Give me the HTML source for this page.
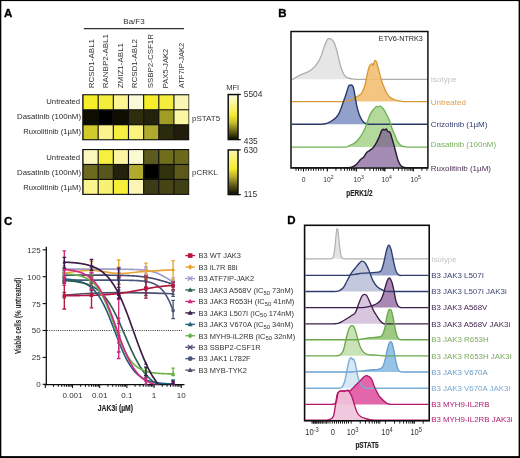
<!DOCTYPE html>
<html><head><meta charset="utf-8"><style>
html,body{margin:0;padding:0;background:#fff;}
svg{display:block;font-family:"Liberation Sans", sans-serif;}
</style></head><body>
<svg width="520" height="458" viewBox="0 0 520 458">
<defs><filter id="soft" x="0" y="0" width="520" height="458" filterUnits="userSpaceOnUse"><feGaussianBlur stdDeviation="0.4"/></filter></defs>
<rect x="0" y="0" width="520" height="458" fill="#fff"/>
<g filter="url(#soft)">
<rect x="0" y="0" width="520" height="458" fill="#fff"/>
<text x="3.9" y="17" font-size="11.5" text-anchor="start" fill="#000" font-weight="bold" stroke="#000" stroke-width="0.35">A</text>
<text x="134" y="24" font-size="8" text-anchor="middle" fill="#333" font-weight="normal" >Ba/F3</text>
<line x1="83.8" y1="28.6" x2="184" y2="28.6" stroke="#333" stroke-width="1.3"/>
<text transform="translate(93.5,88.3) rotate(-90)" font-size="8" fill="#333">RCSD1-ABL1</text>
<text transform="translate(107.8,88.3) rotate(-90)" font-size="8" fill="#333">RANBP2-ABL1</text>
<text transform="translate(122.7,88.3) rotate(-90)" font-size="8" fill="#333">ZMIZ1-ABL1</text>
<text transform="translate(137.1,88.3) rotate(-90)" font-size="8" fill="#333">RCSD1-ABL2</text>
<text transform="translate(153.4,88.3) rotate(-90)" font-size="8" fill="#333" textLength="54.2" lengthAdjust="spacingAndGlyphs">SSBP2-CSF1R</text>
<text transform="translate(167.9,88.3) rotate(-90)" font-size="8" fill="#333" textLength="39.6" lengthAdjust="spacingAndGlyphs">PAX5-JAK2</text>
<text transform="translate(184,88.3) rotate(-90)" font-size="8" fill="#333" textLength="45.6" lengthAdjust="spacingAndGlyphs">ATF7IP-JAK2</text>
<rect x="82.2" y="94.2" width="107" height="46.1" fill="#111"/>
<rect x="83.6" y="95.3" width="14" height="13.9" fill="#f6ee2a"/>
<rect x="98.75" y="95.3" width="14" height="13.9" fill="#f5ed3c"/>
<rect x="113.9" y="95.3" width="14" height="13.9" fill="#fbf591"/>
<rect x="129.05" y="95.3" width="14" height="13.9" fill="#fcfad6"/>
<rect x="144.2" y="95.3" width="14" height="13.9" fill="#f6ee2a"/>
<rect x="159.35" y="95.3" width="14" height="13.9" fill="#f5ed3c"/>
<rect x="174.5" y="95.3" width="14" height="13.9" fill="#faf6b4"/>
<rect x="83.6" y="110.3" width="14" height="13.9" fill="#0a0a05"/>
<rect x="98.75" y="110.3" width="14" height="13.9" fill="#060605"/>
<rect x="113.9" y="110.3" width="14" height="13.9" fill="#0a0a05"/>
<rect x="129.05" y="110.3" width="14" height="13.9" fill="#2f2e0c"/>
<rect x="144.2" y="110.3" width="14" height="13.9" fill="#24230b"/>
<rect x="159.35" y="110.3" width="14" height="13.9" fill="#a09c28"/>
<rect x="174.5" y="110.3" width="14" height="13.9" fill="#fbf6a2"/>
<rect x="83.6" y="125.3" width="14" height="13.9" fill="#d0ca2c"/>
<rect x="98.75" y="125.3" width="14" height="13.9" fill="#faf38e"/>
<rect x="113.9" y="125.3" width="14" height="13.9" fill="#f6ee40"/>
<rect x="129.05" y="125.3" width="14" height="13.9" fill="#faf47e"/>
<rect x="144.2" y="125.3" width="14" height="13.9" fill="#afaa2e"/>
<rect x="159.35" y="125.3" width="14" height="13.9" fill="#2c2b0c"/>
<rect x="174.5" y="125.3" width="14" height="13.9" fill="#201f09"/>
<text x="80.1" y="103.7" font-size="8" text-anchor="end" fill="#2b2b2b" font-weight="normal" textLength="33.8" lengthAdjust="spacingAndGlyphs">Untreated</text>
<text x="81" y="118.9" font-size="8" text-anchor="end" fill="#2b2b2b" font-weight="normal" textLength="64.0" lengthAdjust="spacingAndGlyphs">Dasatinib (100nM)</text>
<text x="81" y="134.2" font-size="8" text-anchor="end" fill="#2b2b2b" font-weight="normal" textLength="57.8" lengthAdjust="spacingAndGlyphs">Ruxolitinib (1&#181;M)</text>
<rect x="82.2" y="149" width="107" height="45.95" fill="#111"/>
<rect x="83.6" y="150.1" width="14" height="13.8" fill="#fbf7bd"/>
<rect x="98.75" y="150.1" width="14" height="13.8" fill="#f7ef3c"/>
<rect x="113.9" y="150.1" width="14" height="13.8" fill="#fbf5a3"/>
<rect x="129.05" y="150.1" width="14" height="13.8" fill="#fcfad2"/>
<rect x="144.2" y="150.1" width="14" height="13.8" fill="#5c5a1c"/>
<rect x="159.35" y="150.1" width="14" height="13.8" fill="#706d1f"/>
<rect x="174.5" y="150.1" width="14" height="13.8" fill="#6c691f"/>
<rect x="83.6" y="165.05" width="14" height="13.8" fill="#6c6a1f"/>
<rect x="98.75" y="165.05" width="14" height="13.8" fill="#58561b"/>
<rect x="113.9" y="165.05" width="14" height="13.8" fill="#22220c"/>
<rect x="129.05" y="165.05" width="14" height="13.8" fill="#b0ab2e"/>
<rect x="144.2" y="165.05" width="14" height="13.8" fill="#060605"/>
<rect x="159.35" y="165.05" width="14" height="13.8" fill="#30300f"/>
<rect x="174.5" y="165.05" width="14" height="13.8" fill="#5b581c"/>
<rect x="83.6" y="180" width="14" height="13.8" fill="#faf38e"/>
<rect x="98.75" y="180" width="14" height="13.8" fill="#f8f173"/>
<rect x="113.9" y="180" width="14" height="13.8" fill="#f6ee38"/>
<rect x="129.05" y="180" width="14" height="13.8" fill="#fbf6b5"/>
<rect x="144.2" y="180" width="14" height="13.8" fill="#3c3b12"/>
<rect x="159.35" y="180" width="14" height="13.8" fill="#474515"/>
<rect x="174.5" y="180" width="14" height="13.8" fill="#414013"/>
<text x="80.1" y="160.2" font-size="8" text-anchor="end" fill="#2b2b2b" font-weight="normal" textLength="33.8" lengthAdjust="spacingAndGlyphs">Untreated</text>
<text x="81" y="175.4" font-size="8" text-anchor="end" fill="#2b2b2b" font-weight="normal" textLength="64.0" lengthAdjust="spacingAndGlyphs">Dasatinib (100nM)</text>
<text x="81" y="190.3" font-size="8" text-anchor="end" fill="#2b2b2b" font-weight="normal" textLength="57.8" lengthAdjust="spacingAndGlyphs">Ruxolitinib (1&#181;M)</text>
<text x="192" y="120.5" font-size="8" text-anchor="start" fill="#333" font-weight="normal" >pSTAT5</text>
<text x="192" y="175.1" font-size="8" text-anchor="start" fill="#333" font-weight="normal" >pCRKL</text>
<defs>
<linearGradient id="cb1" x1="0" y1="0" x2="0" y2="1">
<stop offset="0" stop-color="#fdfbe2"/><stop offset="0.3" stop-color="#f9f270"/><stop offset="0.45" stop-color="#f5ed30"/>
<stop offset="0.62" stop-color="#c8c02a"/><stop offset="0.8" stop-color="#6e6a18"/><stop offset="1" stop-color="#0a0a02"/></linearGradient>
<linearGradient id="cb2" x1="0" y1="0" x2="0" y2="1">
<stop offset="0" stop-color="#fbf6b5"/><stop offset="0.3" stop-color="#f7f050"/><stop offset="0.42" stop-color="#f4ec2c"/>
<stop offset="0.6" stop-color="#b5ae2a"/><stop offset="0.8" stop-color="#5c5818"/><stop offset="1" stop-color="#0a0a02"/></linearGradient>
</defs>
<rect x="228.2" y="94.55" width="9.8" height="45" fill="url(#cb1)" stroke="#111" stroke-width="1.5"/>
<line x1="237.5" y1="94.5" x2="240.8" y2="94.5" stroke="#111" stroke-width="1.2"/>
<line x1="237.5" y1="139.6" x2="240.8" y2="139.6" stroke="#111" stroke-width="1.2"/>
<text x="243.8" y="97.2" font-size="8.4" text-anchor="start" fill="#333" font-weight="normal" >5504</text>
<text x="243.8" y="144.3" font-size="8.4" text-anchor="start" fill="#333" font-weight="normal" >435</text>
<rect x="228.2" y="149.95" width="9.8" height="44.6" fill="url(#cb2)" stroke="#111" stroke-width="1.5"/>
<line x1="237.5" y1="149.9" x2="240.8" y2="149.9" stroke="#111" stroke-width="1.2"/>
<line x1="237.5" y1="194.6" x2="240.8" y2="194.6" stroke="#111" stroke-width="1.2"/>
<text x="243.8" y="152.6" font-size="8.4" text-anchor="start" fill="#333" font-weight="normal" >630</text>
<text x="243.8" y="196.6" font-size="8.4" text-anchor="start" fill="#333" font-weight="normal" >115</text>
<text x="232.7" y="90.2" font-size="7.6" text-anchor="middle" fill="#333" font-weight="normal" >MFI</text>
<text x="278.3" y="17" font-size="11.5" text-anchor="start" fill="#000" font-weight="bold" stroke="#000" stroke-width="0.35">B</text>
<path d="M293,79.3 C293.7,78.85 295.47,77.55 297.2,76.6 C298.93,75.65 301.6,74.38 303.4,73.6 C305.2,72.82 306.47,72.7 308,71.9 C309.53,71.1 311.07,70.22 312.6,68.8 C314.13,67.38 315.8,65.45 317.2,63.4 C318.6,61.35 319.83,59.27 321,56.5 C322.17,53.73 323.17,49.58 324.2,46.8 C325.23,44.02 326.32,41.17 327.2,39.8 C328.08,38.43 328.73,38.63 329.5,38.6 C330.27,38.57 331.02,38.9 331.8,39.6 C332.58,40.3 333.42,41.15 334.2,42.8 C334.98,44.45 335.73,46.83 336.5,49.5 C337.27,52.17 338.05,55.8 338.8,58.8 C339.55,61.8 340.1,64.83 341,67.5 C341.9,70.17 343.03,73.07 344.2,74.8 C345.37,76.53 346.33,77.18 348,77.9 C349.67,78.62 352.2,78.87 354.2,79.1 C356.2,79.33 359.03,79.27 360,79.3 L360,79.3 L293,79.3 Z" fill="#e6e6e6" fill-opacity="1.0" stroke="none"/>
<path d="M292,79.3 L293,79.3 M293,79.3 C293.7,78.85 295.47,77.55 297.2,76.6 C298.93,75.65 301.6,74.38 303.4,73.6 C305.2,72.82 306.47,72.7 308,71.9 C309.53,71.1 311.07,70.22 312.6,68.8 C314.13,67.38 315.8,65.45 317.2,63.4 C318.6,61.35 319.83,59.27 321,56.5 C322.17,53.73 323.17,49.58 324.2,46.8 C325.23,44.02 326.32,41.17 327.2,39.8 C328.08,38.43 328.73,38.63 329.5,38.6 C330.27,38.57 331.02,38.9 331.8,39.6 C332.58,40.3 333.42,41.15 334.2,42.8 C334.98,44.45 335.73,46.83 336.5,49.5 C337.27,52.17 338.05,55.8 338.8,58.8 C339.55,61.8 340.1,64.83 341,67.5 C341.9,70.17 343.03,73.07 344.2,74.8 C345.37,76.53 346.33,77.18 348,77.9 C349.67,78.62 352.2,78.87 354.2,79.1 C356.2,79.33 359.03,79.27 360,79.3 M360,79.3 L427.2,79.3" fill="none" stroke="#adadad" stroke-width="1.25" stroke-linejoin="round"/>
<path d="M345,101.6 C345.7,101.4 347.87,100.87 349.2,100.4 C350.53,99.93 351.72,99.42 353,98.8 C354.28,98.18 355.8,97.33 356.9,96.7 C358,96.07 358.8,95.62 359.6,95 C360.4,94.38 360.87,94.42 361.7,93 C362.53,91.58 363.63,89.82 364.6,86.5 C365.57,83.18 366.72,76.43 367.5,73.1 C368.28,69.77 368.78,67.92 369.3,66.5 C369.82,65.08 370.17,65.08 370.6,64.6 C371.03,64.12 371.47,63.47 371.9,63.6 C372.33,63.73 372.82,65.7 373.2,65.4 C373.58,65.1 373.87,62.63 374.2,61.8 C374.53,60.97 374.78,60.28 375.2,60.4 C375.62,60.52 376.07,60.7 376.7,62.5 C377.33,64.3 378.28,68.48 379,71.2 C379.72,73.92 380.35,76.57 381,78.8 C381.65,81.03 382.1,82.52 382.9,84.6 C383.7,86.68 384.68,89.22 385.8,91.3 C386.92,93.38 388,95.62 389.6,97.1 C391.2,98.58 393.33,99.5 395.4,100.2 C397.47,100.9 400.07,101.07 402,101.3 C403.93,101.53 406.17,101.55 407,101.6 L407,101.6 L345,101.6 Z" fill="#f2bf72" fill-opacity="0.9" stroke="none"/>
<path d="M322,124.2 C322.82,124.05 325.32,123.83 326.9,123.3 C328.48,122.77 329.97,121.97 331.5,121 C333.03,120.03 334.85,118.77 336.1,117.5 C337.35,116.23 338.13,115.03 339,113.4 C339.87,111.77 340.43,110 341.3,107.7 C342.17,105.4 343.33,102.1 344.2,99.6 C345.07,97.1 345.77,94.93 346.5,92.7 C347.23,90.47 348.02,87.45 348.6,86.2 C349.18,84.95 349.38,85.33 350,85.2 C350.62,85.07 351.68,84.8 352.3,85.4 C352.92,86 353.22,86.82 353.7,88.8 C354.18,90.78 354.67,94.35 355.2,97.3 C355.73,100.25 356.23,103.62 356.9,106.5 C357.57,109.38 358.33,112.28 359.2,114.6 C360.07,116.92 361.03,118.88 362.1,120.4 C363.17,121.92 364.62,123.07 365.6,123.7 C366.58,124.33 367.6,124.12 368,124.2 L368,124.2 L322,124.2 Z" fill="#7f90c2" fill-opacity="0.85" stroke="none"/>
<path d="M347,147.1 C347.5,146.82 348.73,146.07 350,145.4 C351.27,144.73 353.07,144.25 354.6,143.1 C356.13,141.95 357.78,140.3 359.2,138.5 C360.62,136.7 361.93,134.48 363.1,132.3 C364.27,130.12 365.3,127.7 366.2,125.4 C367.1,123.1 367.73,120.55 368.5,118.5 C369.27,116.45 369.92,114.65 370.8,113.1 C371.68,111.55 372.9,110.3 373.8,109.2 C374.7,108.1 375.55,106.88 376.2,106.5 C376.85,106.12 377.07,106.95 377.7,106.9 C378.33,106.85 379.1,105.93 380,106.2 C380.9,106.47 382.07,107.23 383.1,108.5 C384.13,109.77 385.18,111.88 386.2,113.8 C387.22,115.72 388.32,117.82 389.2,120 C390.08,122.18 390.6,124.47 391.5,126.9 C392.4,129.33 393.57,132.13 394.6,134.6 C395.63,137.07 396.55,139.82 397.7,141.7 C398.85,143.58 399.95,145 401.5,145.9 C403.05,146.8 406.08,146.9 407,147.1 L407,147.1 L347,147.1 Z" fill="#a7d28b" fill-opacity="0.85" stroke="none"/>
<path d="M349,167.6 C349.42,167.53 350.3,167.7 351.5,167.2 C352.7,166.7 354.65,165.93 356.2,164.6 C357.75,163.27 359.53,160.48 360.8,159.2 C362.07,157.92 362.78,158.05 363.8,156.9 C364.82,155.75 366,153.32 366.9,152.3 C367.8,151.28 368.17,151.57 369.2,150.8 C370.23,150.03 371.93,148.98 373.1,147.7 C374.27,146.42 375.18,144.9 376.2,143.1 C377.22,141.3 378.32,138.95 379.2,136.9 C380.08,134.85 380.85,132.08 381.5,130.8 C382.15,129.52 382.58,129.33 383.1,129.2 C383.62,129.07 384.08,130.05 384.6,130 C385.12,129.95 385.68,128.65 386.2,128.9 C386.72,129.15 387.07,130.93 387.7,131.5 C388.33,132.07 389.37,131.4 390,132.3 C390.63,133.2 390.87,134.85 391.5,136.9 C392.13,138.95 393.02,141.78 393.8,144.6 C394.58,147.42 395.42,150.98 396.2,153.8 C396.98,156.62 397.62,159.43 398.5,161.5 C399.38,163.57 400.35,165.18 401.5,166.2 C402.65,167.22 404.75,167.37 405.4,167.6 L405.4,167.6 L349,167.6 Z" fill="#77548f" fill-opacity="0.67" stroke="none"/>
<path d="M292,101.6 L345,101.6 M345,101.6 C345.7,101.4 347.87,100.87 349.2,100.4 C350.53,99.93 351.72,99.42 353,98.8 C354.28,98.18 355.8,97.33 356.9,96.7 C358,96.07 358.8,95.62 359.6,95 C360.4,94.38 360.87,94.42 361.7,93 C362.53,91.58 363.63,89.82 364.6,86.5 C365.57,83.18 366.72,76.43 367.5,73.1 C368.28,69.77 368.78,67.92 369.3,66.5 C369.82,65.08 370.17,65.08 370.6,64.6 C371.03,64.12 371.47,63.47 371.9,63.6 C372.33,63.73 372.82,65.7 373.2,65.4 C373.58,65.1 373.87,62.63 374.2,61.8 C374.53,60.97 374.78,60.28 375.2,60.4 C375.62,60.52 376.07,60.7 376.7,62.5 C377.33,64.3 378.28,68.48 379,71.2 C379.72,73.92 380.35,76.57 381,78.8 C381.65,81.03 382.1,82.52 382.9,84.6 C383.7,86.68 384.68,89.22 385.8,91.3 C386.92,93.38 388,95.62 389.6,97.1 C391.2,98.58 393.33,99.5 395.4,100.2 C397.47,100.9 400.07,101.07 402,101.3 C403.93,101.53 406.17,101.55 407,101.6 M407,101.6 L427.2,101.6" fill="none" stroke="#d99a35" stroke-width="1.35" stroke-linejoin="round"/>
<path d="M292,124.2 L322,124.2 M322,124.2 C322.82,124.05 325.32,123.83 326.9,123.3 C328.48,122.77 329.97,121.97 331.5,121 C333.03,120.03 334.85,118.77 336.1,117.5 C337.35,116.23 338.13,115.03 339,113.4 C339.87,111.77 340.43,110 341.3,107.7 C342.17,105.4 343.33,102.1 344.2,99.6 C345.07,97.1 345.77,94.93 346.5,92.7 C347.23,90.47 348.02,87.45 348.6,86.2 C349.18,84.95 349.38,85.33 350,85.2 C350.62,85.07 351.68,84.8 352.3,85.4 C352.92,86 353.22,86.82 353.7,88.8 C354.18,90.78 354.67,94.35 355.2,97.3 C355.73,100.25 356.23,103.62 356.9,106.5 C357.57,109.38 358.33,112.28 359.2,114.6 C360.07,116.92 361.03,118.88 362.1,120.4 C363.17,121.92 364.62,123.07 365.6,123.7 C366.58,124.33 367.6,124.12 368,124.2 M368,124.2 L427.2,124.2" fill="none" stroke="#2b3a6b" stroke-width="1.4" stroke-linejoin="round"/>
<path d="M292,147.1 L347,147.1 M347,147.1 C347.5,146.82 348.73,146.07 350,145.4 C351.27,144.73 353.07,144.25 354.6,143.1 C356.13,141.95 357.78,140.3 359.2,138.5 C360.62,136.7 361.93,134.48 363.1,132.3 C364.27,130.12 365.3,127.7 366.2,125.4 C367.1,123.1 367.73,120.55 368.5,118.5 C369.27,116.45 369.92,114.65 370.8,113.1 C371.68,111.55 372.9,110.3 373.8,109.2 C374.7,108.1 375.55,106.88 376.2,106.5 C376.85,106.12 377.07,106.95 377.7,106.9 C378.33,106.85 379.1,105.93 380,106.2 C380.9,106.47 382.07,107.23 383.1,108.5 C384.13,109.77 385.18,111.88 386.2,113.8 C387.22,115.72 388.32,117.82 389.2,120 C390.08,122.18 390.6,124.47 391.5,126.9 C392.4,129.33 393.57,132.13 394.6,134.6 C395.63,137.07 396.55,139.82 397.7,141.7 C398.85,143.58 399.95,145 401.5,145.9 C403.05,146.8 406.08,146.9 407,147.1 M407,147.1 L427.2,147.1" fill="none" stroke="#72b257" stroke-width="1.35" stroke-linejoin="round"/>
<path d="M292,167.6 L349,167.6 M349,167.6 C349.42,167.53 350.3,167.7 351.5,167.2 C352.7,166.7 354.65,165.93 356.2,164.6 C357.75,163.27 359.53,160.48 360.8,159.2 C362.07,157.92 362.78,158.05 363.8,156.9 C364.82,155.75 366,153.32 366.9,152.3 C367.8,151.28 368.17,151.57 369.2,150.8 C370.23,150.03 371.93,148.98 373.1,147.7 C374.27,146.42 375.18,144.9 376.2,143.1 C377.22,141.3 378.32,138.95 379.2,136.9 C380.08,134.85 380.85,132.08 381.5,130.8 C382.15,129.52 382.58,129.33 383.1,129.2 C383.62,129.07 384.08,130.05 384.6,130 C385.12,129.95 385.68,128.65 386.2,128.9 C386.72,129.15 387.07,130.93 387.7,131.5 C388.33,132.07 389.37,131.4 390,132.3 C390.63,133.2 390.87,134.85 391.5,136.9 C392.13,138.95 393.02,141.78 393.8,144.6 C394.58,147.42 395.42,150.98 396.2,153.8 C396.98,156.62 397.62,159.43 398.5,161.5 C399.38,163.57 400.35,165.18 401.5,166.2 C402.65,167.22 404.75,167.37 405.4,167.6 M405.4,167.6 L427.2,167.6" fill="none" stroke="#2c1c35" stroke-width="1.45" stroke-linejoin="round"/>
<rect x="291" y="31.5" width="136.9" height="136.5" fill="none" stroke="#111" stroke-width="1.5"/>
<line x1="327.3" y1="168" x2="327.3" y2="170.8" stroke="#111" stroke-width="0.95"/>
<line x1="335.91" y1="168" x2="335.91" y2="170.8" stroke="#111" stroke-width="0.95"/>
<line x1="340.95" y1="168" x2="340.95" y2="170.8" stroke="#111" stroke-width="0.95"/>
<line x1="344.52" y1="168" x2="344.52" y2="170.8" stroke="#111" stroke-width="0.95"/>
<line x1="347.29" y1="168" x2="347.29" y2="170.8" stroke="#111" stroke-width="0.95"/>
<line x1="349.56" y1="168" x2="349.56" y2="170.8" stroke="#111" stroke-width="0.95"/>
<line x1="351.47" y1="168" x2="351.47" y2="170.8" stroke="#111" stroke-width="0.95"/>
<line x1="353.13" y1="168" x2="353.13" y2="170.8" stroke="#111" stroke-width="0.95"/>
<line x1="354.59" y1="168" x2="354.59" y2="170.8" stroke="#111" stroke-width="0.95"/>
<line x1="356.3" y1="168" x2="356.3" y2="170.8" stroke="#111" stroke-width="0.95"/>
<line x1="364.91" y1="168" x2="364.91" y2="170.8" stroke="#111" stroke-width="0.95"/>
<line x1="369.95" y1="168" x2="369.95" y2="170.8" stroke="#111" stroke-width="0.95"/>
<line x1="373.52" y1="168" x2="373.52" y2="170.8" stroke="#111" stroke-width="0.95"/>
<line x1="376.29" y1="168" x2="376.29" y2="170.8" stroke="#111" stroke-width="0.95"/>
<line x1="378.56" y1="168" x2="378.56" y2="170.8" stroke="#111" stroke-width="0.95"/>
<line x1="380.47" y1="168" x2="380.47" y2="170.8" stroke="#111" stroke-width="0.95"/>
<line x1="382.13" y1="168" x2="382.13" y2="170.8" stroke="#111" stroke-width="0.95"/>
<line x1="383.59" y1="168" x2="383.59" y2="170.8" stroke="#111" stroke-width="0.95"/>
<line x1="384.8" y1="168" x2="384.8" y2="170.8" stroke="#111" stroke-width="0.95"/>
<line x1="393.41" y1="168" x2="393.41" y2="170.8" stroke="#111" stroke-width="0.95"/>
<line x1="398.45" y1="168" x2="398.45" y2="170.8" stroke="#111" stroke-width="0.95"/>
<line x1="402.02" y1="168" x2="402.02" y2="170.8" stroke="#111" stroke-width="0.95"/>
<line x1="404.79" y1="168" x2="404.79" y2="170.8" stroke="#111" stroke-width="0.95"/>
<line x1="407.06" y1="168" x2="407.06" y2="170.8" stroke="#111" stroke-width="0.95"/>
<line x1="408.97" y1="168" x2="408.97" y2="170.8" stroke="#111" stroke-width="0.95"/>
<line x1="410.63" y1="168" x2="410.63" y2="170.8" stroke="#111" stroke-width="0.95"/>
<line x1="412.09" y1="168" x2="412.09" y2="170.8" stroke="#111" stroke-width="0.95"/>
<line x1="413.3" y1="168" x2="413.3" y2="170.8" stroke="#111" stroke-width="0.95"/>
<line x1="421.91" y1="168" x2="421.91" y2="170.8" stroke="#111" stroke-width="0.95"/>
<line x1="426.95" y1="168" x2="426.95" y2="170.8" stroke="#111" stroke-width="0.95"/>
<line x1="296" y1="168" x2="296" y2="170.8" stroke="#111" stroke-width="0.95"/>
<line x1="298.5" y1="168" x2="298.5" y2="170.8" stroke="#111" stroke-width="0.95"/>
<line x1="301" y1="168" x2="301" y2="170.8" stroke="#111" stroke-width="0.95"/>
<line x1="303.5" y1="168" x2="303.5" y2="170.8" stroke="#111" stroke-width="0.95"/>
<line x1="306" y1="168" x2="306" y2="170.8" stroke="#111" stroke-width="0.95"/>
<line x1="308.5" y1="168" x2="308.5" y2="170.8" stroke="#111" stroke-width="0.95"/>
<line x1="311" y1="168" x2="311" y2="170.8" stroke="#111" stroke-width="0.95"/>
<line x1="313.5" y1="168" x2="313.5" y2="170.8" stroke="#111" stroke-width="0.95"/>
<line x1="316" y1="168" x2="316" y2="170.8" stroke="#111" stroke-width="0.95"/>
<line x1="318.5" y1="168" x2="318.5" y2="170.8" stroke="#111" stroke-width="0.95"/>
<line x1="321" y1="168" x2="321" y2="170.8" stroke="#111" stroke-width="0.95"/>
<line x1="323.5" y1="168" x2="323.5" y2="170.8" stroke="#111" stroke-width="0.95"/>
<line x1="303.5" y1="168" x2="303.5" y2="171.5" stroke="#111" stroke-width="1"/>
<line x1="327.3" y1="168" x2="327.3" y2="171.5" stroke="#111" stroke-width="1"/>
<line x1="356.3" y1="168" x2="356.3" y2="171.5" stroke="#111" stroke-width="1"/>
<line x1="384.8" y1="168" x2="384.8" y2="171.5" stroke="#111" stroke-width="1"/>
<line x1="413.3" y1="168" x2="413.3" y2="171.5" stroke="#111" stroke-width="1"/>
<g transform="translate(303.5,181.8) scale(0.88,1)"><text x="0" y="0" font-size="7.6" fill="#333" text-anchor="middle">0</text></g>
<g transform="translate(323.2,181.8) scale(0.88,1)"><text x="0" y="0" font-size="7.6" fill="#333">10<tspan font-size="5.8" dy="-3.2">2</tspan></text></g>
<g transform="translate(353.5,181.8) scale(0.88,1)"><text x="0" y="0" font-size="7.6" fill="#333">10<tspan font-size="5.8" dy="-3.2">3</tspan></text></g>
<g transform="translate(381.5,181.8) scale(0.88,1)"><text x="0" y="0" font-size="7.6" fill="#333">10<tspan font-size="5.8" dy="-3.2">4</tspan></text></g>
<g transform="translate(410.6,181.8) scale(0.88,1)"><text x="0" y="0" font-size="7.6" fill="#333">10<tspan font-size="5.8" dy="-3.2">5</tspan></text></g>
<g transform="translate(359.5,195.5) scale(0.745,1)"><text x="0" y="0" font-size="8.6" font-weight="bold" stroke="#222" stroke-width="0.15" fill="#222" text-anchor="middle">pERK1/2</text></g>
<text x="422.8" y="41.3" font-size="7.2" text-anchor="end" fill="#222" font-weight="normal" >ETV6-NTRK3</text>
<text x="430.8" y="82.3" font-size="8" text-anchor="start" fill="#c4c4c4" font-weight="normal" >Isotype</text>
<text x="430.8" y="104.6" font-size="8" text-anchor="start" fill="#dca043" font-weight="normal" >Untreated</text>
<text x="430.8" y="127" font-size="8" text-anchor="start" fill="#2f3d6c" font-weight="normal" >Crizotinib (1&#181;M)</text>
<text x="430.8" y="147" font-size="8" text-anchor="start" fill="#78ad5c" font-weight="normal" >Dasatinib (100nM)</text>
<text x="430.8" y="170.6" font-size="8" text-anchor="start" fill="#4a3052" font-weight="normal" >Ruxolitinib (1&#181;M)</text>
<text x="3.9" y="224.5" font-size="11.5" text-anchor="start" fill="#000" font-weight="bold" stroke="#000" stroke-width="0.35">C</text>
<line x1="46.3" y1="246.8" x2="46.3" y2="385.2" stroke="#111" stroke-width="1.3"/>
<line x1="44.6" y1="384.6" x2="184.5" y2="384.6" stroke="#111" stroke-width="1.3"/>
<line x1="42.6" y1="384.3" x2="46.3" y2="384.3" stroke="#111" stroke-width="1.1"/>
<text x="40.6" y="387.2" font-size="8" text-anchor="end" fill="#333" font-weight="normal" >0</text>
<line x1="42.6" y1="357.4" x2="46.3" y2="357.4" stroke="#111" stroke-width="1.1"/>
<text x="40.6" y="360.3" font-size="8" text-anchor="end" fill="#333" font-weight="normal" >25</text>
<line x1="42.6" y1="330.5" x2="46.3" y2="330.5" stroke="#111" stroke-width="1.1"/>
<text x="40.6" y="333.4" font-size="8" text-anchor="end" fill="#333" font-weight="normal" >50</text>
<line x1="42.6" y1="303.6" x2="46.3" y2="303.6" stroke="#111" stroke-width="1.1"/>
<text x="40.6" y="306.5" font-size="8" text-anchor="end" fill="#333" font-weight="normal" >75</text>
<line x1="42.6" y1="276.7" x2="46.3" y2="276.7" stroke="#111" stroke-width="1.1"/>
<text x="40.6" y="279.6" font-size="8" text-anchor="end" fill="#333" font-weight="normal" >100</text>
<line x1="42.6" y1="249.8" x2="46.3" y2="249.8" stroke="#111" stroke-width="1.1"/>
<text x="40.6" y="252.7" font-size="8" text-anchor="end" fill="#333" font-weight="normal" >125</text>
<line x1="45.3" y1="384.6" x2="45.3" y2="388" stroke="#111" stroke-width="1.05"/>
<line x1="53.49" y1="384.6" x2="53.49" y2="386.8" stroke="#111" stroke-width="1.05"/>
<line x1="58.28" y1="384.6" x2="58.28" y2="386.8" stroke="#111" stroke-width="1.05"/>
<line x1="61.68" y1="384.6" x2="61.68" y2="386.8" stroke="#111" stroke-width="1.05"/>
<line x1="64.31" y1="384.6" x2="64.31" y2="386.8" stroke="#111" stroke-width="1.05"/>
<line x1="66.47" y1="384.6" x2="66.47" y2="386.8" stroke="#111" stroke-width="1.05"/>
<line x1="68.29" y1="384.6" x2="68.29" y2="386.8" stroke="#111" stroke-width="1.05"/>
<line x1="69.86" y1="384.6" x2="69.86" y2="386.8" stroke="#111" stroke-width="1.05"/>
<line x1="71.26" y1="384.6" x2="71.26" y2="386.8" stroke="#111" stroke-width="1.05"/>
<line x1="72.5" y1="384.6" x2="72.5" y2="388" stroke="#111" stroke-width="1.05"/>
<line x1="80.69" y1="384.6" x2="80.69" y2="386.8" stroke="#111" stroke-width="1.05"/>
<line x1="85.48" y1="384.6" x2="85.48" y2="386.8" stroke="#111" stroke-width="1.05"/>
<line x1="88.88" y1="384.6" x2="88.88" y2="386.8" stroke="#111" stroke-width="1.05"/>
<line x1="91.51" y1="384.6" x2="91.51" y2="386.8" stroke="#111" stroke-width="1.05"/>
<line x1="93.67" y1="384.6" x2="93.67" y2="386.8" stroke="#111" stroke-width="1.05"/>
<line x1="95.49" y1="384.6" x2="95.49" y2="386.8" stroke="#111" stroke-width="1.05"/>
<line x1="97.06" y1="384.6" x2="97.06" y2="386.8" stroke="#111" stroke-width="1.05"/>
<line x1="98.46" y1="384.6" x2="98.46" y2="386.8" stroke="#111" stroke-width="1.05"/>
<line x1="99.7" y1="384.6" x2="99.7" y2="388" stroke="#111" stroke-width="1.05"/>
<line x1="107.89" y1="384.6" x2="107.89" y2="386.8" stroke="#111" stroke-width="1.05"/>
<line x1="112.68" y1="384.6" x2="112.68" y2="386.8" stroke="#111" stroke-width="1.05"/>
<line x1="116.08" y1="384.6" x2="116.08" y2="386.8" stroke="#111" stroke-width="1.05"/>
<line x1="118.71" y1="384.6" x2="118.71" y2="386.8" stroke="#111" stroke-width="1.05"/>
<line x1="120.87" y1="384.6" x2="120.87" y2="386.8" stroke="#111" stroke-width="1.05"/>
<line x1="122.69" y1="384.6" x2="122.69" y2="386.8" stroke="#111" stroke-width="1.05"/>
<line x1="124.26" y1="384.6" x2="124.26" y2="386.8" stroke="#111" stroke-width="1.05"/>
<line x1="125.66" y1="384.6" x2="125.66" y2="386.8" stroke="#111" stroke-width="1.05"/>
<line x1="126.9" y1="384.6" x2="126.9" y2="388" stroke="#111" stroke-width="1.05"/>
<line x1="135.09" y1="384.6" x2="135.09" y2="386.8" stroke="#111" stroke-width="1.05"/>
<line x1="139.88" y1="384.6" x2="139.88" y2="386.8" stroke="#111" stroke-width="1.05"/>
<line x1="143.28" y1="384.6" x2="143.28" y2="386.8" stroke="#111" stroke-width="1.05"/>
<line x1="145.91" y1="384.6" x2="145.91" y2="386.8" stroke="#111" stroke-width="1.05"/>
<line x1="148.07" y1="384.6" x2="148.07" y2="386.8" stroke="#111" stroke-width="1.05"/>
<line x1="149.89" y1="384.6" x2="149.89" y2="386.8" stroke="#111" stroke-width="1.05"/>
<line x1="151.46" y1="384.6" x2="151.46" y2="386.8" stroke="#111" stroke-width="1.05"/>
<line x1="152.86" y1="384.6" x2="152.86" y2="386.8" stroke="#111" stroke-width="1.05"/>
<line x1="154.1" y1="384.6" x2="154.1" y2="388" stroke="#111" stroke-width="1.05"/>
<line x1="162.29" y1="384.6" x2="162.29" y2="386.8" stroke="#111" stroke-width="1.05"/>
<line x1="167.08" y1="384.6" x2="167.08" y2="386.8" stroke="#111" stroke-width="1.05"/>
<line x1="170.48" y1="384.6" x2="170.48" y2="386.8" stroke="#111" stroke-width="1.05"/>
<line x1="173.11" y1="384.6" x2="173.11" y2="386.8" stroke="#111" stroke-width="1.05"/>
<line x1="175.27" y1="384.6" x2="175.27" y2="386.8" stroke="#111" stroke-width="1.05"/>
<line x1="177.09" y1="384.6" x2="177.09" y2="386.8" stroke="#111" stroke-width="1.05"/>
<line x1="178.66" y1="384.6" x2="178.66" y2="386.8" stroke="#111" stroke-width="1.05"/>
<line x1="180.06" y1="384.6" x2="180.06" y2="386.8" stroke="#111" stroke-width="1.05"/>
<line x1="181.3" y1="384.6" x2="181.3" y2="388" stroke="#111" stroke-width="1.05"/>
<text x="72.5" y="397.9" font-size="8" text-anchor="middle" fill="#333" font-weight="normal" >0.001</text>
<text x="99.7" y="397.9" font-size="8" text-anchor="middle" fill="#333" font-weight="normal" >0.01</text>
<text x="126.9" y="397.9" font-size="8" text-anchor="middle" fill="#333" font-weight="normal" >0.1</text>
<text x="154.1" y="397.9" font-size="8" text-anchor="middle" fill="#333" font-weight="normal" >1</text>
<text x="181.3" y="397.9" font-size="8" text-anchor="middle" fill="#333" font-weight="normal" >10</text>
<g transform="translate(115.4,410.8) scale(0.79,1)"><text x="0" y="0" font-size="8.6" font-weight="bold" stroke="#222" stroke-width="0.15" fill="#222" text-anchor="middle">JAK3i (&#181;M)</text></g>
<g transform="translate(20.7,315.9) rotate(-90) scale(0.735,1)"><text x="0" y="0" font-size="8.6" font-weight="bold" fill="#222" text-anchor="middle">Viable cells (% untreated)</text></g>
<line x1="47" y1="330.5" x2="182" y2="330.5" stroke="#333" stroke-width="1" stroke-dasharray="1,1.2"/>
<defs><clipPath id="cclip"><rect x="46" y="240" width="140" height="144.6"/></clipPath></defs>
<g clip-path="url(#cclip)">
<path d="M64.31,275.09 L64.99,275.09 L65.67,275.09 L66.35,275.09 L67.03,275.09 L67.71,275.09 L68.39,275.09 L69.07,275.09 L69.75,275.09 L70.43,275.09 L71.11,275.09 L71.79,275.09 L72.47,275.09 L73.15,275.09 L73.83,275.09 L74.51,275.09 L75.19,275.09 L75.87,275.09 L76.55,275.09 L77.23,275.09 L77.91,275.09 L78.59,275.09 L79.27,275.09 L79.95,275.1 L80.63,275.1 L81.31,275.1 L81.99,275.1 L82.67,275.1 L83.35,275.1 L84.03,275.1 L84.71,275.1 L85.39,275.1 L86.07,275.1 L86.75,275.1 L87.43,275.1 L88.11,275.1 L88.79,275.11 L89.47,275.11 L90.15,275.11 L90.83,275.11 L91.51,275.11 L92.19,275.11 L92.87,275.11 L93.55,275.11 L94.23,275.12 L94.91,275.12 L95.59,275.12 L96.27,275.12 L96.95,275.12 L97.63,275.13 L98.31,275.13 L98.99,275.13 L99.67,275.13 L100.35,275.14 L101.03,275.14 L101.71,275.14 L102.39,275.15 L103.07,275.15 L103.75,275.15 L104.43,275.16 L105.11,275.16 L105.79,275.17 L106.47,275.17 L107.15,275.18 L107.83,275.18 L108.51,275.19 L109.19,275.19 L109.87,275.2 L110.55,275.21 L111.23,275.21 L111.91,275.22 L112.59,275.23 L113.27,275.24 L113.95,275.25 L114.63,275.26 L115.31,275.27 L115.99,275.28 L116.67,275.29 L117.35,275.3 L118.03,275.31 L118.71,275.32 L119.39,275.34 L120.07,275.35 L120.75,275.37 L121.43,275.38 L122.11,275.4 L122.79,275.42 L123.47,275.44 L124.15,275.46 L124.83,275.48 L125.51,275.5 L126.19,275.53 L126.87,275.55 L127.55,275.58 L128.23,275.61 L128.91,275.64 L129.59,275.67 L130.27,275.7 L130.95,275.74 L131.63,275.77 L132.31,275.81 L132.99,275.85 L133.67,275.9 L134.35,275.94 L135.03,275.99 L135.71,276.04 L136.39,276.09 L137.07,276.15 L137.75,276.21 L138.43,276.27 L139.11,276.33 L139.79,276.4 L140.47,276.47 L141.15,276.54 L141.83,276.62 L142.51,276.7 L143.19,276.78 L143.87,276.87 L144.55,276.96 L145.23,277.06 L145.91,277.16 L146.59,277.27 L147.27,277.37 L147.95,277.49 L148.63,277.61 L149.31,277.73 L149.99,277.85 L150.67,277.99 L151.35,278.12 L152.03,278.26 L152.71,278.41 L153.39,278.56 L154.07,278.71 L154.75,278.87 L155.43,279.03 L156.11,279.2 L156.79,279.37 L157.47,279.55 L158.15,279.73 L158.83,279.91 L159.51,280.1 L160.19,280.29 L160.87,280.48 L161.55,280.68 L162.23,280.88 L162.91,281.08 L163.59,281.29 L164.27,281.49 L164.95,281.7 L165.63,281.91 L166.31,282.11 L166.99,282.32 L167.67,282.53 L168.35,282.74 L169.03,282.95 L169.71,283.16 L170.39,283.36 L171.07,283.57 L171.75,283.77 L172.43,283.97 L173.11,284.16" fill="none" stroke="#4a4a72" stroke-width="1.65"/>
<line x1="64.31" y1="272.4" x2="64.31" y2="277.78" stroke="#4a4a72" stroke-width="1.35"/>
<line x1="62.51" y1="272.4" x2="66.11" y2="272.4" stroke="#4a4a72" stroke-width="1.3"/>
<line x1="62.51" y1="277.78" x2="66.11" y2="277.78" stroke="#4a4a72" stroke-width="1.3"/>
<path d="M62.61,273.39 L66.01,276.79 M62.61,276.79 L66.01,273.39" stroke="#4a4a72" stroke-width="1.2"/>
<line x1="91.51" y1="272.42" x2="91.51" y2="277.8" stroke="#4a4a72" stroke-width="1.35"/>
<line x1="89.71" y1="272.42" x2="93.31" y2="272.42" stroke="#4a4a72" stroke-width="1.3"/>
<line x1="89.71" y1="277.8" x2="93.31" y2="277.8" stroke="#4a4a72" stroke-width="1.3"/>
<path d="M89.81,273.41 L93.21,276.81 M89.81,276.81 L93.21,273.41" stroke="#4a4a72" stroke-width="1.2"/>
<line x1="118.71" y1="272.63" x2="118.71" y2="278.01" stroke="#4a4a72" stroke-width="1.35"/>
<line x1="116.91" y1="272.63" x2="120.51" y2="272.63" stroke="#4a4a72" stroke-width="1.3"/>
<line x1="116.91" y1="278.01" x2="120.51" y2="278.01" stroke="#4a4a72" stroke-width="1.3"/>
<path d="M117.01,273.62 L120.41,277.02 M117.01,277.02 L120.41,273.62" stroke="#4a4a72" stroke-width="1.2"/>
<line x1="145.91" y1="274.47" x2="145.91" y2="279.85" stroke="#4a4a72" stroke-width="1.35"/>
<line x1="144.11" y1="274.47" x2="147.71" y2="274.47" stroke="#4a4a72" stroke-width="1.3"/>
<line x1="144.11" y1="279.85" x2="147.71" y2="279.85" stroke="#4a4a72" stroke-width="1.3"/>
<path d="M144.21,275.46 L147.61,278.86 M144.21,278.86 L147.61,275.46" stroke="#4a4a72" stroke-width="1.2"/>
<line x1="173.11" y1="281.47" x2="173.11" y2="286.85" stroke="#4a4a72" stroke-width="1.35"/>
<line x1="171.31" y1="281.47" x2="174.91" y2="281.47" stroke="#4a4a72" stroke-width="1.3"/>
<line x1="171.31" y1="286.85" x2="174.91" y2="286.85" stroke="#4a4a72" stroke-width="1.3"/>
<path d="M171.41,282.46 L174.81,285.86 M171.41,285.86 L174.81,282.46" stroke="#4a4a72" stroke-width="1.2"/>
<path d="M64.31,295.21 C68.85,294.88 82.45,293.7 91.51,293.27 C100.58,292.84 109.65,292.7 118.71,292.62 C127.78,292.55 136.85,292.66 145.91,292.84 C154.98,293.02 168.58,293.56 173.11,293.7" fill="none" stroke="#50506f" stroke-width="1.65"/>
<line x1="64.31" y1="292.52" x2="64.31" y2="297.9" stroke="#50506f" stroke-width="1.35"/>
<line x1="62.51" y1="292.52" x2="66.11" y2="292.52" stroke="#50506f" stroke-width="1.3"/>
<line x1="62.51" y1="297.9" x2="66.11" y2="297.9" stroke="#50506f" stroke-width="1.3"/>
<path d="M64.31,293.17 L66.18,296.57 L62.44,296.57 Z" fill="#50506f"/>
<line x1="91.51" y1="290.58" x2="91.51" y2="295.96" stroke="#50506f" stroke-width="1.35"/>
<line x1="89.71" y1="290.58" x2="93.31" y2="290.58" stroke="#50506f" stroke-width="1.3"/>
<line x1="89.71" y1="295.96" x2="93.31" y2="295.96" stroke="#50506f" stroke-width="1.3"/>
<path d="M91.51,291.23 L93.38,294.63 L89.64,294.63 Z" fill="#50506f"/>
<line x1="118.71" y1="289.93" x2="118.71" y2="295.31" stroke="#50506f" stroke-width="1.35"/>
<line x1="116.91" y1="289.93" x2="120.51" y2="289.93" stroke="#50506f" stroke-width="1.3"/>
<line x1="116.91" y1="295.31" x2="120.51" y2="295.31" stroke="#50506f" stroke-width="1.3"/>
<path d="M118.71,290.58 L120.58,293.98 L116.84,293.98 Z" fill="#50506f"/>
<line x1="145.91" y1="290.15" x2="145.91" y2="295.53" stroke="#50506f" stroke-width="1.35"/>
<line x1="144.11" y1="290.15" x2="147.71" y2="290.15" stroke="#50506f" stroke-width="1.3"/>
<line x1="144.11" y1="295.53" x2="147.71" y2="295.53" stroke="#50506f" stroke-width="1.3"/>
<path d="M145.91,290.8 L147.78,294.2 L144.04,294.2 Z" fill="#50506f"/>
<line x1="173.11" y1="291.01" x2="173.11" y2="296.39" stroke="#50506f" stroke-width="1.35"/>
<line x1="171.31" y1="291.01" x2="174.91" y2="291.01" stroke="#50506f" stroke-width="1.3"/>
<line x1="171.31" y1="296.39" x2="174.91" y2="296.39" stroke="#50506f" stroke-width="1.3"/>
<path d="M173.11,291.66 L174.98,295.06 L171.24,295.06 Z" fill="#50506f"/>
<path d="M64.31,280.14 L64.99,280.14 L65.67,280.14 L66.35,280.14 L67.03,280.14 L67.71,280.14 L68.39,280.14 L69.07,280.14 L69.75,280.14 L70.43,280.14 L71.11,280.14 L71.79,280.14 L72.47,280.14 L73.15,280.14 L73.83,280.14 L74.51,280.14 L75.19,280.14 L75.87,280.14 L76.55,280.14 L77.23,280.14 L77.91,280.14 L78.59,280.14 L79.27,280.14 L79.95,280.14 L80.63,280.14 L81.31,280.14 L81.99,280.14 L82.67,280.14 L83.35,280.14 L84.03,280.14 L84.71,280.14 L85.39,280.14 L86.07,280.14 L86.75,280.14 L87.43,280.14 L88.11,280.14 L88.79,280.14 L89.47,280.14 L90.15,280.14 L90.83,280.14 L91.51,280.14 L92.19,280.14 L92.87,280.14 L93.55,280.14 L94.23,280.15 L94.91,280.15 L95.59,280.15 L96.27,280.15 L96.95,280.15 L97.63,280.15 L98.31,280.15 L98.99,280.15 L99.67,280.15 L100.35,280.15 L101.03,280.15 L101.71,280.15 L102.39,280.15 L103.07,280.15 L103.75,280.15 L104.43,280.15 L105.11,280.15 L105.79,280.15 L106.47,280.15 L107.15,280.15 L107.83,280.15 L108.51,280.16 L109.19,280.16 L109.87,280.16 L110.55,280.16 L111.23,280.16 L111.91,280.16 L112.59,280.16 L113.27,280.16 L113.95,280.17 L114.63,280.17 L115.31,280.17 L115.99,280.17 L116.67,280.18 L117.35,280.18 L118.03,280.18 L118.71,280.19 L119.39,280.19 L120.07,280.19 L120.75,280.2 L121.43,280.2 L122.11,280.21 L122.79,280.22 L123.47,280.22 L124.15,280.23 L124.83,280.24 L125.51,280.25 L126.19,280.25 L126.87,280.26 L127.55,280.28 L128.23,280.29 L128.91,280.3 L129.59,280.31 L130.27,280.33 L130.95,280.35 L131.63,280.37 L132.31,280.39 L132.99,280.41 L133.67,280.43 L134.35,280.46 L135.03,280.48 L135.71,280.52 L136.39,280.55 L137.07,280.59 L137.75,280.62 L138.43,280.67 L139.11,280.72 L139.79,280.77 L140.47,280.82 L141.15,280.88 L141.83,280.95 L142.51,281.02 L143.19,281.1 L143.87,281.19 L144.55,281.28 L145.23,281.38 L145.91,281.49 L146.59,281.61 L147.27,281.74 L147.95,281.88 L148.63,282.03 L149.31,282.2 L149.99,282.38 L150.67,282.58 L151.35,282.8 L152.03,283.03 L152.71,283.28 L153.39,283.55 L154.07,283.85 L154.75,284.17 L155.43,284.52 L156.11,284.9 L156.79,285.3 L157.47,285.74 L158.15,286.22 L158.83,286.73 L159.51,287.29 L160.19,287.88 L160.87,288.53 L161.55,289.22 L162.23,289.96 L162.91,290.75 L163.59,291.6 L164.27,292.51 L164.95,293.49 L165.63,294.52 L166.31,295.63 L166.99,296.8 L167.67,298.04 L168.35,299.36 L169.03,300.75 L169.71,302.22 L170.39,303.76 L171.07,305.37 L171.75,307.06 L172.43,308.81 L173.11,310.64" fill="none" stroke="#4c5579" stroke-width="1.65"/>
<line x1="64.31" y1="277.78" x2="64.31" y2="283.16" stroke="#4c5579" stroke-width="1.35"/>
<line x1="62.51" y1="277.78" x2="66.11" y2="277.78" stroke="#4c5579" stroke-width="1.3"/>
<line x1="62.51" y1="283.16" x2="66.11" y2="283.16" stroke="#4c5579" stroke-width="1.3"/>
<circle cx="64.31" cy="280.14" r="1.78" fill="#4c5579"/>
<line x1="91.51" y1="277.78" x2="91.51" y2="283.16" stroke="#4c5579" stroke-width="1.35"/>
<line x1="89.71" y1="277.78" x2="93.31" y2="277.78" stroke="#4c5579" stroke-width="1.3"/>
<line x1="89.71" y1="283.16" x2="93.31" y2="283.16" stroke="#4c5579" stroke-width="1.3"/>
<circle cx="91.51" cy="280.14" r="1.78" fill="#4c5579"/>
<line x1="118.71" y1="277.78" x2="118.71" y2="284.23" stroke="#4c5579" stroke-width="1.35"/>
<line x1="116.91" y1="277.78" x2="120.51" y2="277.78" stroke="#4c5579" stroke-width="1.3"/>
<line x1="116.91" y1="284.23" x2="120.51" y2="284.23" stroke="#4c5579" stroke-width="1.3"/>
<circle cx="118.71" cy="280.19" r="1.78" fill="#4c5579"/>
<line x1="145.91" y1="277.78" x2="145.91" y2="287.46" stroke="#4c5579" stroke-width="1.35"/>
<line x1="144.11" y1="277.78" x2="147.71" y2="277.78" stroke="#4c5579" stroke-width="1.3"/>
<line x1="144.11" y1="287.46" x2="147.71" y2="287.46" stroke="#4c5579" stroke-width="1.3"/>
<circle cx="145.91" cy="281.49" r="1.78" fill="#4c5579"/>
<line x1="173.11" y1="300.37" x2="173.11" y2="318.66" stroke="#4c5579" stroke-width="1.35"/>
<line x1="171.31" y1="300.37" x2="174.91" y2="300.37" stroke="#4c5579" stroke-width="1.3"/>
<line x1="171.31" y1="318.66" x2="174.91" y2="318.66" stroke="#4c5579" stroke-width="1.3"/>
<circle cx="173.11" cy="310.64" r="1.78" fill="#4c5579"/>
<path d="M64.31,269.17 L64.99,269.17 L65.67,269.17 L66.35,269.17 L67.03,269.17 L67.71,269.17 L68.39,269.17 L69.07,269.17 L69.75,269.17 L70.43,269.17 L71.11,269.17 L71.79,269.17 L72.47,269.17 L73.15,269.17 L73.83,269.17 L74.51,269.17 L75.19,269.17 L75.87,269.17 L76.55,269.17 L77.23,269.17 L77.91,269.17 L78.59,269.17 L79.27,269.17 L79.95,269.17 L80.63,269.17 L81.31,269.17 L81.99,269.17 L82.67,269.17 L83.35,269.17 L84.03,269.17 L84.71,269.17 L85.39,269.17 L86.07,269.17 L86.75,269.17 L87.43,269.17 L88.11,269.17 L88.79,269.17 L89.47,269.17 L90.15,269.17 L90.83,269.17 L91.51,269.17 L92.19,269.17 L92.87,269.17 L93.55,269.17 L94.23,269.17 L94.91,269.17 L95.59,269.17 L96.27,269.17 L96.95,269.17 L97.63,269.17 L98.31,269.17 L98.99,269.17 L99.67,269.17 L100.35,269.17 L101.03,269.17 L101.71,269.17 L102.39,269.17 L103.07,269.17 L103.75,269.17 L104.43,269.17 L105.11,269.17 L105.79,269.18 L106.47,269.18 L107.15,269.18 L107.83,269.18 L108.51,269.18 L109.19,269.18 L109.87,269.18 L110.55,269.18 L111.23,269.18 L111.91,269.18 L112.59,269.19 L113.27,269.19 L113.95,269.19 L114.63,269.19 L115.31,269.19 L115.99,269.2 L116.67,269.2 L117.35,269.2 L118.03,269.2 L118.71,269.21 L119.39,269.21 L120.07,269.21 L120.75,269.22 L121.43,269.22 L122.11,269.23 L122.79,269.23 L123.47,269.24 L124.15,269.25 L124.83,269.25 L125.51,269.26 L126.19,269.27 L126.87,269.28 L127.55,269.29 L128.23,269.3 L128.91,269.31 L129.59,269.32 L130.27,269.34 L130.95,269.35 L131.63,269.37 L132.31,269.39 L132.99,269.41 L133.67,269.43 L134.35,269.45 L135.03,269.48 L135.71,269.5 L136.39,269.53 L137.07,269.56 L137.75,269.6 L138.43,269.64 L139.11,269.68 L139.79,269.72 L140.47,269.77 L141.15,269.82 L141.83,269.88 L142.51,269.94 L143.19,270.01 L143.87,270.08 L144.55,270.16 L145.23,270.24 L145.91,270.33 L146.59,270.43 L147.27,270.54 L147.95,270.65 L148.63,270.77 L149.31,270.9 L149.99,271.04 L150.67,271.19 L151.35,271.35 L152.03,271.53 L152.71,271.71 L153.39,271.9 L154.07,272.11 L154.75,272.33 L155.43,272.56 L156.11,272.81 L156.79,273.07 L157.47,273.34 L158.15,273.62 L158.83,273.92 L159.51,274.23 L160.19,274.55 L160.87,274.89 L161.55,275.23 L162.23,275.59 L162.91,275.95 L163.59,276.32 L164.27,276.7 L164.95,277.09 L165.63,277.48 L166.31,277.87 L166.99,278.26 L167.67,278.66 L168.35,279.05 L169.03,279.44 L169.71,279.83 L170.39,280.21 L171.07,280.58 L171.75,280.95 L172.43,281.31 L173.11,281.66" fill="none" stroke="#9d9cca" stroke-width="1.65"/>
<line x1="64.31" y1="265.94" x2="64.31" y2="272.4" stroke="#9d9cca" stroke-width="1.35"/>
<line x1="62.51" y1="265.94" x2="66.11" y2="265.94" stroke="#9d9cca" stroke-width="1.3"/>
<line x1="62.51" y1="272.4" x2="66.11" y2="272.4" stroke="#9d9cca" stroke-width="1.3"/>
<path d="M62.61,267.47 L66.01,270.87 M62.61,270.87 L66.01,267.47" stroke="#9d9cca" stroke-width="1.2"/>
<line x1="91.51" y1="265.94" x2="91.51" y2="273.47" stroke="#9d9cca" stroke-width="1.35"/>
<line x1="89.71" y1="265.94" x2="93.31" y2="265.94" stroke="#9d9cca" stroke-width="1.3"/>
<line x1="89.71" y1="273.47" x2="93.31" y2="273.47" stroke="#9d9cca" stroke-width="1.3"/>
<path d="M89.81,267.47 L93.21,270.87 M89.81,270.87 L93.21,267.47" stroke="#9d9cca" stroke-width="1.2"/>
<line x1="118.71" y1="267.02" x2="118.71" y2="272.4" stroke="#9d9cca" stroke-width="1.35"/>
<line x1="116.91" y1="267.02" x2="120.51" y2="267.02" stroke="#9d9cca" stroke-width="1.3"/>
<line x1="116.91" y1="272.4" x2="120.51" y2="272.4" stroke="#9d9cca" stroke-width="1.3"/>
<path d="M117.01,267.51 L120.41,270.91 M117.01,270.91 L120.41,267.51" stroke="#9d9cca" stroke-width="1.2"/>
<line x1="145.91" y1="267.02" x2="145.91" y2="274.55" stroke="#9d9cca" stroke-width="1.35"/>
<line x1="144.11" y1="267.02" x2="147.71" y2="267.02" stroke="#9d9cca" stroke-width="1.3"/>
<line x1="144.11" y1="274.55" x2="147.71" y2="274.55" stroke="#9d9cca" stroke-width="1.3"/>
<path d="M144.21,268.63 L147.61,272.03 M144.21,272.03 L147.61,268.63" stroke="#9d9cca" stroke-width="1.2"/>
<line x1="173.11" y1="277.78" x2="173.11" y2="284.23" stroke="#9d9cca" stroke-width="1.35"/>
<line x1="171.31" y1="277.78" x2="174.91" y2="277.78" stroke="#9d9cca" stroke-width="1.3"/>
<line x1="171.31" y1="284.23" x2="174.91" y2="284.23" stroke="#9d9cca" stroke-width="1.3"/>
<path d="M171.41,279.96 L174.81,283.36 M171.41,283.36 L174.81,279.96" stroke="#9d9cca" stroke-width="1.2"/>
<path d="M64.31,272.93 C68.85,272.49 82.45,270.15 91.51,270.24 C100.58,270.33 109.65,273.29 118.71,273.47 C127.78,273.65 136.85,271.91 145.91,271.32 C154.98,270.73 168.58,270.15 173.11,269.92" fill="none" stroke="#e8a535" stroke-width="1.65"/>
<line x1="64.31" y1="269.17" x2="64.31" y2="276.7" stroke="#e8a535" stroke-width="1.35"/>
<line x1="62.51" y1="269.17" x2="66.11" y2="269.17" stroke="#e8a535" stroke-width="1.3"/>
<line x1="62.51" y1="276.7" x2="66.11" y2="276.7" stroke="#e8a535" stroke-width="1.3"/>
<path d="M64.31,270.89 L66.35,272.93 L64.31,274.97 L62.27,272.93 Z" fill="#e8a535"/>
<line x1="91.51" y1="261.64" x2="91.51" y2="277.78" stroke="#e8a535" stroke-width="1.35"/>
<line x1="89.71" y1="261.64" x2="93.31" y2="261.64" stroke="#e8a535" stroke-width="1.3"/>
<line x1="89.71" y1="277.78" x2="93.31" y2="277.78" stroke="#e8a535" stroke-width="1.3"/>
<path d="M91.51,268.2 L93.55,270.24 L91.51,272.28 L89.47,270.24 Z" fill="#e8a535"/>
<line x1="118.71" y1="260.02" x2="118.71" y2="284.23" stroke="#e8a535" stroke-width="1.35"/>
<line x1="116.91" y1="260.02" x2="120.51" y2="260.02" stroke="#e8a535" stroke-width="1.3"/>
<line x1="116.91" y1="284.23" x2="120.51" y2="284.23" stroke="#e8a535" stroke-width="1.3"/>
<path d="M118.71,271.43 L120.75,273.47 L118.71,275.51 L116.67,273.47 Z" fill="#e8a535"/>
<line x1="145.91" y1="263.03" x2="145.91" y2="278.85" stroke="#e8a535" stroke-width="1.35"/>
<line x1="144.11" y1="263.03" x2="147.71" y2="263.03" stroke="#e8a535" stroke-width="1.3"/>
<line x1="144.11" y1="278.85" x2="147.71" y2="278.85" stroke="#e8a535" stroke-width="1.3"/>
<path d="M145.91,269.28 L147.95,271.32 L145.91,273.36 L143.87,271.32 Z" fill="#e8a535"/>
<line x1="173.11" y1="260.56" x2="173.11" y2="279.93" stroke="#e8a535" stroke-width="1.35"/>
<line x1="171.31" y1="260.56" x2="174.91" y2="260.56" stroke="#e8a535" stroke-width="1.3"/>
<line x1="171.31" y1="279.93" x2="174.91" y2="279.93" stroke="#e8a535" stroke-width="1.3"/>
<path d="M173.11,267.88 L175.15,269.92 L173.11,271.96 L171.07,269.92 Z" fill="#e8a535"/>
<path d="M64.31,295.68 L64.99,295.67 L65.67,295.67 L66.35,295.67 L67.03,295.66 L67.71,295.66 L68.39,295.65 L69.07,295.65 L69.75,295.65 L70.43,295.64 L71.11,295.64 L71.79,295.63 L72.47,295.63 L73.15,295.62 L73.83,295.62 L74.51,295.61 L75.19,295.6 L75.87,295.6 L76.55,295.59 L77.23,295.58 L77.91,295.57 L78.59,295.57 L79.27,295.56 L79.95,295.55 L80.63,295.54 L81.31,295.53 L81.99,295.52 L82.67,295.51 L83.35,295.5 L84.03,295.49 L84.71,295.48 L85.39,295.46 L86.07,295.45 L86.75,295.44 L87.43,295.42 L88.11,295.41 L88.79,295.39 L89.47,295.38 L90.15,295.36 L90.83,295.34 L91.51,295.33 L92.19,295.31 L92.87,295.29 L93.55,295.27 L94.23,295.24 L94.91,295.22 L95.59,295.2 L96.27,295.17 L96.95,295.15 L97.63,295.12 L98.31,295.09 L98.99,295.07 L99.67,295.04 L100.35,295 L101.03,294.97 L101.71,294.94 L102.39,294.9 L103.07,294.87 L103.75,294.83 L104.43,294.79 L105.11,294.75 L105.79,294.7 L106.47,294.66 L107.15,294.61 L107.83,294.57 L108.51,294.52 L109.19,294.46 L109.87,294.41 L110.55,294.36 L111.23,294.3 L111.91,294.24 L112.59,294.18 L113.27,294.11 L113.95,294.05 L114.63,293.98 L115.31,293.91 L115.99,293.84 L116.67,293.77 L117.35,293.69 L118.03,293.61 L118.71,293.53 L119.39,293.44 L120.07,293.36 L120.75,293.27 L121.43,293.18 L122.11,293.09 L122.79,292.99 L123.47,292.89 L124.15,292.79 L124.83,292.69 L125.51,292.59 L126.19,292.48 L126.87,292.37 L127.55,292.26 L128.23,292.15 L128.91,292.03 L129.59,291.92 L130.27,291.8 L130.95,291.68 L131.63,291.56 L132.31,291.43 L132.99,291.31 L133.67,291.18 L134.35,291.05 L135.03,290.92 L135.71,290.8 L136.39,290.66 L137.07,290.53 L137.75,290.4 L138.43,290.27 L139.11,290.14 L139.79,290.01 L140.47,289.87 L141.15,289.74 L141.83,289.61 L142.51,289.48 L143.19,289.35 L143.87,289.21 L144.55,289.08 L145.23,288.96 L145.91,288.83 L146.59,288.7 L147.27,288.58 L147.95,288.45 L148.63,288.33 L149.31,288.21 L149.99,288.09 L150.67,287.97 L151.35,287.86 L152.03,287.74 L152.71,287.63 L153.39,287.52 L154.07,287.42 L154.75,287.31 L155.43,287.21 L156.11,287.11 L156.79,287.01 L157.47,286.91 L158.15,286.82 L158.83,286.73 L159.51,286.64 L160.19,286.55 L160.87,286.47 L161.55,286.39 L162.23,286.31 L162.91,286.23 L163.59,286.16 L164.27,286.08 L164.95,286.01 L165.63,285.94 L166.31,285.88 L166.99,285.81 L167.67,285.75 L168.35,285.69 L169.03,285.64 L169.71,285.58 L170.39,285.53 L171.07,285.47 L171.75,285.42 L172.43,285.38 L173.11,285.33" fill="none" stroke="#b5173d" stroke-width="1.65"/>
<line x1="64.31" y1="281" x2="64.31" y2="308.98" stroke="#b5173d" stroke-width="1.35"/>
<line x1="62.51" y1="281" x2="66.11" y2="281" stroke="#b5173d" stroke-width="1.3"/>
<line x1="62.51" y1="308.98" x2="66.11" y2="308.98" stroke="#b5173d" stroke-width="1.3"/>
<rect x="62.61" y="294.05" width="3.4" height="3.4" fill="#b5173d"/>
<line x1="91.51" y1="282.08" x2="91.51" y2="307.9" stroke="#b5173d" stroke-width="1.35"/>
<line x1="89.71" y1="282.08" x2="93.31" y2="282.08" stroke="#b5173d" stroke-width="1.3"/>
<line x1="89.71" y1="307.9" x2="93.31" y2="307.9" stroke="#b5173d" stroke-width="1.3"/>
<rect x="89.81" y="293.51" width="3.4" height="3.4" fill="#b5173d"/>
<line x1="118.71" y1="287.46" x2="118.71" y2="299.3" stroke="#b5173d" stroke-width="1.35"/>
<line x1="116.91" y1="287.46" x2="120.51" y2="287.46" stroke="#b5173d" stroke-width="1.3"/>
<line x1="116.91" y1="299.3" x2="120.51" y2="299.3" stroke="#b5173d" stroke-width="1.3"/>
<rect x="117.01" y="292" width="3.4" height="3.4" fill="#b5173d"/>
<line x1="145.91" y1="276.16" x2="145.91" y2="298.22" stroke="#b5173d" stroke-width="1.35"/>
<line x1="144.11" y1="276.16" x2="147.71" y2="276.16" stroke="#b5173d" stroke-width="1.3"/>
<line x1="144.11" y1="298.22" x2="147.71" y2="298.22" stroke="#b5173d" stroke-width="1.3"/>
<rect x="144.21" y="286.3" width="3.4" height="3.4" fill="#b5173d"/>
<line x1="173.11" y1="282.08" x2="173.11" y2="289.61" stroke="#b5173d" stroke-width="1.35"/>
<line x1="171.31" y1="282.08" x2="174.91" y2="282.08" stroke="#b5173d" stroke-width="1.3"/>
<line x1="171.31" y1="289.61" x2="174.91" y2="289.61" stroke="#b5173d" stroke-width="1.3"/>
<rect x="171.41" y="284.15" width="3.4" height="3.4" fill="#b5173d"/>
<path d="M64.31,278.99 L64.99,279.04 L65.67,279.09 L66.35,279.14 L67.03,279.2 L67.71,279.26 L68.39,279.33 L69.07,279.4 L69.75,279.47 L70.43,279.56 L71.11,279.64 L71.79,279.73 L72.47,279.83 L73.15,279.94 L73.83,280.05 L74.51,280.17 L75.19,280.3 L75.87,280.43 L76.55,280.58 L77.23,280.74 L77.91,280.9 L78.59,281.08 L79.27,281.27 L79.95,281.47 L80.63,281.68 L81.31,281.91 L81.99,282.16 L82.67,282.42 L83.35,282.69 L84.03,282.99 L84.71,283.3 L85.39,283.63 L86.07,283.99 L86.75,284.36 L87.43,284.76 L88.11,285.18 L88.79,285.63 L89.47,286.11 L90.15,286.62 L90.83,287.15 L91.51,287.72 L92.19,288.32 L92.87,288.95 L93.55,289.62 L94.23,290.32 L94.91,291.06 L95.59,291.84 L96.27,292.67 L96.95,293.53 L97.63,294.44 L98.31,295.39 L98.99,296.38 L99.67,297.42 L100.35,298.51 L101.03,299.64 L101.71,300.83 L102.39,302.05 L103.07,303.33 L103.75,304.65 L104.43,306.02 L105.11,307.43 L105.79,308.88 L106.47,310.38 L107.15,311.92 L107.83,313.5 L108.51,315.11 L109.19,316.76 L109.87,318.44 L110.55,320.15 L111.23,321.88 L111.91,323.63 L112.59,325.4 L113.27,327.19 L113.95,328.98 L114.63,330.78 L115.31,332.58 L115.99,334.38 L116.67,336.16 L117.35,337.94 L118.03,339.71 L118.71,341.45 L119.39,343.17 L120.07,344.87 L120.75,346.54 L121.43,348.17 L122.11,349.77 L122.79,351.33 L123.47,352.86 L124.15,354.34 L124.83,355.77 L125.51,357.17 L126.19,358.52 L126.87,359.82 L127.55,361.07 L128.23,362.28 L128.91,363.44 L129.59,364.56 L130.27,365.63 L130.95,366.65 L131.63,367.63 L132.31,368.56 L132.99,369.45 L133.67,370.29 L134.35,371.1 L135.03,371.86 L135.71,372.59 L136.39,373.28 L137.07,373.93 L137.75,374.55 L138.43,375.14 L139.11,375.69 L139.79,376.21 L140.47,376.7 L141.15,377.17 L141.83,377.61 L142.51,378.02 L143.19,378.41 L143.87,378.78 L144.55,379.12 L145.23,379.45 L145.91,379.75 L146.59,380.04 L147.27,380.31 L147.95,380.56 L148.63,380.8 L149.31,381.02 L149.99,381.23 L150.67,381.43 L151.35,381.61 L152.03,381.78 L152.71,381.94 L153.39,382.1 L154.07,382.24 L154.75,382.37 L155.43,382.5 L156.11,382.61 L156.79,382.72 L157.47,382.82 L158.15,382.92 L158.83,383.01 L159.51,383.09 L160.19,383.17 L160.87,383.24 L161.55,383.31 L162.23,383.38 L162.91,383.44 L163.59,383.49 L164.27,383.55 L164.95,383.6 L165.63,383.64 L166.31,383.68 L166.99,383.72 L167.67,383.76 L168.35,383.8 L169.03,383.83 L169.71,383.86 L170.39,383.89 L171.07,383.92 L171.75,383.94 L172.43,383.97 L173.11,383.99" fill="none" stroke="#265e7d" stroke-width="1.65"/>
<line x1="64.31" y1="275.62" x2="64.31" y2="282.08" stroke="#265e7d" stroke-width="1.35"/>
<line x1="62.51" y1="275.62" x2="66.11" y2="275.62" stroke="#265e7d" stroke-width="1.3"/>
<line x1="62.51" y1="282.08" x2="66.11" y2="282.08" stroke="#265e7d" stroke-width="1.3"/>
<path d="M64.31,276.95 L66.18,280.35 L62.44,280.35 Z" fill="#265e7d"/>
<line x1="91.51" y1="281" x2="91.51" y2="289.61" stroke="#265e7d" stroke-width="1.35"/>
<line x1="89.71" y1="281" x2="93.31" y2="281" stroke="#265e7d" stroke-width="1.3"/>
<line x1="89.71" y1="289.61" x2="93.31" y2="289.61" stroke="#265e7d" stroke-width="1.3"/>
<path d="M91.51,285.68 L93.38,289.08 L89.64,289.08 Z" fill="#265e7d"/>
<line x1="118.71" y1="335.88" x2="118.71" y2="352.02" stroke="#265e7d" stroke-width="1.35"/>
<line x1="116.91" y1="335.88" x2="120.51" y2="335.88" stroke="#265e7d" stroke-width="1.3"/>
<line x1="116.91" y1="352.02" x2="120.51" y2="352.02" stroke="#265e7d" stroke-width="1.3"/>
<path d="M118.71,339.41 L120.58,342.81 L116.84,342.81 Z" fill="#265e7d"/>
<line x1="145.91" y1="372.46" x2="145.91" y2="384.3" stroke="#265e7d" stroke-width="1.35"/>
<line x1="144.11" y1="372.46" x2="147.71" y2="372.46" stroke="#265e7d" stroke-width="1.3"/>
<line x1="144.11" y1="384.3" x2="147.71" y2="384.3" stroke="#265e7d" stroke-width="1.3"/>
<path d="M145.91,377.71 L147.78,381.11 L144.04,381.11 Z" fill="#265e7d"/>
<line x1="173.11" y1="380" x2="173.11" y2="384.3" stroke="#265e7d" stroke-width="1.35"/>
<line x1="171.31" y1="380" x2="174.91" y2="380" stroke="#265e7d" stroke-width="1.3"/>
<line x1="171.31" y1="384.3" x2="174.91" y2="384.3" stroke="#265e7d" stroke-width="1.3"/>
<path d="M173.11,380.97 L174.98,384.37 L171.24,384.37 Z" fill="#265e7d"/>
<path d="M64.31,280.58 L64.99,280.61 L65.67,280.65 L66.35,280.7 L67.03,280.74 L67.71,280.79 L68.39,280.84 L69.07,280.89 L69.75,280.95 L70.43,281.01 L71.11,281.08 L71.79,281.14 L72.47,281.21 L73.15,281.29 L73.83,281.37 L74.51,281.45 L75.19,281.54 L75.87,281.64 L76.55,281.74 L77.23,281.84 L77.91,281.95 L78.59,282.07 L79.27,282.19 L79.95,282.33 L80.63,282.46 L81.31,282.61 L81.99,282.77 L82.67,282.93 L83.35,283.1 L84.03,283.28 L84.71,283.48 L85.39,283.68 L86.07,283.89 L86.75,284.12 L87.43,284.36 L88.11,284.61 L88.79,284.88 L89.47,285.15 L90.15,285.45 L90.83,285.76 L91.51,286.09 L92.19,286.43 L92.87,286.79 L93.55,287.17 L94.23,287.57 L94.91,287.99 L95.59,288.43 L96.27,288.89 L96.95,289.38 L97.63,289.89 L98.31,290.42 L98.99,290.98 L99.67,291.57 L100.35,292.18 L101.03,292.82 L101.71,293.5 L102.39,294.2 L103.07,294.93 L103.75,295.69 L104.43,296.48 L105.11,297.31 L105.79,298.17 L106.47,299.07 L107.15,299.99 L107.83,300.96 L108.51,301.96 L109.19,302.99 L109.87,304.06 L110.55,305.16 L111.23,306.3 L111.91,307.48 L112.59,308.68 L113.27,309.93 L113.95,311.2 L114.63,312.51 L115.31,313.85 L115.99,315.22 L116.67,316.62 L117.35,318.05 L118.03,319.5 L118.71,320.98 L119.39,322.47 L120.07,323.99 L120.75,325.53 L121.43,327.08 L122.11,328.65 L122.79,330.22 L123.47,331.81 L124.15,333.4 L124.83,334.99 L125.51,336.59 L126.19,338.18 L126.87,339.77 L127.55,341.35 L128.23,342.92 L128.91,344.48 L129.59,346.02 L130.27,347.55 L130.95,349.06 L131.63,350.54 L132.31,352.01 L132.99,353.45 L133.67,354.86 L134.35,356.24 L135.03,357.59 L135.71,358.91 L136.39,360.2 L137.07,361.46 L137.75,362.69 L138.43,363.87 L139.11,365.03 L139.79,366.15 L140.47,367.23 L141.15,368.28 L141.83,369.3 L142.51,370.27 L143.19,371.22 L143.87,372.13 L144.55,373 L145.23,373.84 L145.91,374.65 L146.59,375.43 L147.27,376.17 L147.95,376.89 L148.63,377.57 L149.31,378.22 L149.99,378.85 L150.67,379.45 L151.35,380.02 L152.03,380.57 L152.71,381.09 L153.39,381.58 L154.07,382.05 L154.75,382.51 L155.43,382.93 L156.11,383.34 L156.79,383.73 L157.47,384.1 L158.15,384.45 L158.83,384.79 L159.51,385.1 L160.19,385.4 L160.87,385.69 L161.55,385.96 L162.23,386.22 L162.91,386.46 L163.59,386.69 L164.27,386.91 L164.95,387.12 L165.63,387.32 L166.31,387.5 L166.99,387.68 L167.67,387.85 L168.35,388.01 L169.03,388.16 L169.71,388.3 L170.39,388.43 L171.07,388.56 L171.75,388.68 L172.43,388.8 L173.11,388.9" fill="none" stroke="#2c6051" stroke-width="1.65"/>
<line x1="64.31" y1="277.89" x2="64.31" y2="283.27" stroke="#2c6051" stroke-width="1.35"/>
<line x1="62.51" y1="277.89" x2="66.11" y2="277.89" stroke="#2c6051" stroke-width="1.3"/>
<line x1="62.51" y1="283.27" x2="66.11" y2="283.27" stroke="#2c6051" stroke-width="1.3"/>
<path d="M64.31,278.54 L66.18,281.94 L62.44,281.94 Z" fill="#2c6051"/>
<line x1="91.51" y1="283.4" x2="91.51" y2="288.78" stroke="#2c6051" stroke-width="1.35"/>
<line x1="89.71" y1="283.4" x2="93.31" y2="283.4" stroke="#2c6051" stroke-width="1.3"/>
<line x1="89.71" y1="288.78" x2="93.31" y2="288.78" stroke="#2c6051" stroke-width="1.3"/>
<path d="M91.51,284.05 L93.38,287.45 L89.64,287.45 Z" fill="#2c6051"/>
<line x1="118.71" y1="318.29" x2="118.71" y2="323.67" stroke="#2c6051" stroke-width="1.35"/>
<line x1="116.91" y1="318.29" x2="120.51" y2="318.29" stroke="#2c6051" stroke-width="1.3"/>
<line x1="116.91" y1="323.67" x2="120.51" y2="323.67" stroke="#2c6051" stroke-width="1.3"/>
<path d="M118.71,318.94 L120.58,322.34 L116.84,322.34 Z" fill="#2c6051"/>
<line x1="145.91" y1="371.96" x2="145.91" y2="377.34" stroke="#2c6051" stroke-width="1.35"/>
<line x1="144.11" y1="371.96" x2="147.71" y2="371.96" stroke="#2c6051" stroke-width="1.3"/>
<line x1="144.11" y1="377.34" x2="147.71" y2="377.34" stroke="#2c6051" stroke-width="1.3"/>
<path d="M145.91,372.61 L147.78,376.01 L144.04,376.01 Z" fill="#2c6051"/>
<line x1="173.11" y1="386.21" x2="173.11" y2="385.38" stroke="#2c6051" stroke-width="1.35"/>
<line x1="171.31" y1="386.21" x2="174.91" y2="386.21" stroke="#2c6051" stroke-width="1.3"/>
<line x1="171.31" y1="385.38" x2="174.91" y2="385.38" stroke="#2c6051" stroke-width="1.3"/>
<path d="M173.11,380.97 L174.98,384.37 L171.24,384.37 Z" fill="#2c6051"/>
<path d="M64.31,273.9 L64.99,273.94 L65.67,273.97 L66.35,274.01 L67.03,274.05 L67.71,274.1 L68.39,274.15 L69.07,274.2 L69.75,274.26 L70.43,274.32 L71.11,274.38 L71.79,274.45 L72.47,274.53 L73.15,274.61 L73.83,274.69 L74.51,274.79 L75.19,274.89 L75.87,275 L76.55,275.11 L77.23,275.24 L77.91,275.37 L78.59,275.52 L79.27,275.67 L79.95,275.84 L80.63,276.02 L81.31,276.21 L81.99,276.42 L82.67,276.64 L83.35,276.88 L84.03,277.13 L84.71,277.41 L85.39,277.7 L86.07,278.01 L86.75,278.35 L87.43,278.71 L88.11,279.09 L88.79,279.5 L89.47,279.94 L90.15,280.41 L90.83,280.91 L91.51,281.44 L92.19,282.01 L92.87,282.61 L93.55,283.25 L94.23,283.93 L94.91,284.65 L95.59,285.42 L96.27,286.23 L96.95,287.09 L97.63,287.99 L98.31,288.95 L98.99,289.95 L99.67,291.01 L100.35,292.12 L101.03,293.29 L101.71,294.5 L102.39,295.78 L103.07,297.1 L103.75,298.48 L104.43,299.91 L105.11,301.4 L105.79,302.93 L106.47,304.52 L107.15,306.14 L107.83,307.82 L108.51,309.53 L109.19,311.28 L109.87,313.06 L110.55,314.87 L111.23,316.7 L111.91,318.56 L112.59,320.43 L113.27,322.3 L113.95,324.19 L114.63,326.07 L115.31,327.94 L115.99,329.8 L116.67,331.65 L117.35,333.47 L118.03,335.27 L118.71,337.04 L119.39,338.77 L120.07,340.47 L120.75,342.12 L121.43,343.73 L122.11,345.29 L122.79,346.81 L123.47,348.27 L124.15,349.68 L124.83,351.03 L125.51,352.34 L126.19,353.58 L126.87,354.78 L127.55,355.92 L128.23,357.01 L128.91,358.04 L129.59,359.02 L130.27,359.96 L130.95,360.84 L131.63,361.68 L132.31,362.47 L132.99,363.22 L133.67,363.92 L134.35,364.58 L135.03,365.21 L135.71,365.79 L136.39,366.35 L137.07,366.86 L137.75,367.35 L138.43,367.8 L139.11,368.23 L139.79,368.63 L140.47,369 L141.15,369.35 L141.83,369.68 L142.51,369.98 L143.19,370.27 L143.87,370.53 L144.55,370.78 L145.23,371.01 L145.91,371.22 L146.59,371.42 L147.27,371.61 L147.95,371.78 L148.63,371.95 L149.31,372.1 L149.99,372.24 L150.67,372.37 L151.35,372.49 L152.03,372.6 L152.71,372.71 L153.39,372.8 L154.07,372.9 L154.75,372.98 L155.43,373.06 L156.11,373.13 L156.79,373.2 L157.47,373.26 L158.15,373.32 L158.83,373.37 L159.51,373.42 L160.19,373.47 L160.87,373.51 L161.55,373.56 L162.23,373.59 L162.91,373.63 L163.59,373.66 L164.27,373.69 L164.95,373.72 L165.63,373.74 L166.31,373.77 L166.99,373.79 L167.67,373.81 L168.35,373.83 L169.03,373.85 L169.71,373.86 L170.39,373.88 L171.07,373.89 L171.75,373.91 L172.43,373.92 L173.11,373.93" fill="none" stroke="#6cb24b" stroke-width="1.65"/>
<line x1="64.31" y1="270.24" x2="64.31" y2="276.7" stroke="#6cb24b" stroke-width="1.35"/>
<line x1="62.51" y1="270.24" x2="66.11" y2="270.24" stroke="#6cb24b" stroke-width="1.3"/>
<line x1="62.51" y1="276.7" x2="66.11" y2="276.7" stroke="#6cb24b" stroke-width="1.3"/>
<path d="M64.31,271.86 L66.35,273.9 L64.31,275.94 L62.27,273.9 Z" fill="#6cb24b"/>
<line x1="91.51" y1="274.55" x2="91.51" y2="281" stroke="#6cb24b" stroke-width="1.35"/>
<line x1="89.71" y1="274.55" x2="93.31" y2="274.55" stroke="#6cb24b" stroke-width="1.3"/>
<line x1="89.71" y1="281" x2="93.31" y2="281" stroke="#6cb24b" stroke-width="1.3"/>
<path d="M91.51,279.4 L93.55,281.44 L91.51,283.48 L89.47,281.44 Z" fill="#6cb24b"/>
<line x1="118.71" y1="332.65" x2="118.71" y2="343.41" stroke="#6cb24b" stroke-width="1.35"/>
<line x1="116.91" y1="332.65" x2="120.51" y2="332.65" stroke="#6cb24b" stroke-width="1.3"/>
<line x1="116.91" y1="343.41" x2="120.51" y2="343.41" stroke="#6cb24b" stroke-width="1.3"/>
<path d="M118.71,335 L120.75,337.04 L118.71,339.08 L116.67,337.04 Z" fill="#6cb24b"/>
<line x1="145.91" y1="368.16" x2="145.91" y2="372.46" stroke="#6cb24b" stroke-width="1.35"/>
<line x1="144.11" y1="368.16" x2="147.71" y2="368.16" stroke="#6cb24b" stroke-width="1.3"/>
<line x1="144.11" y1="372.46" x2="147.71" y2="372.46" stroke="#6cb24b" stroke-width="1.3"/>
<path d="M145.91,369.18 L147.95,371.22 L145.91,373.26 L143.87,371.22 Z" fill="#6cb24b"/>
<line x1="173.11" y1="368.16" x2="173.11" y2="375.69" stroke="#6cb24b" stroke-width="1.35"/>
<line x1="171.31" y1="368.16" x2="174.91" y2="368.16" stroke="#6cb24b" stroke-width="1.3"/>
<line x1="171.31" y1="375.69" x2="174.91" y2="375.69" stroke="#6cb24b" stroke-width="1.3"/>
<path d="M173.11,371.89 L175.15,373.93 L173.11,375.97 L171.07,373.93 Z" fill="#6cb24b"/>
<path d="M64.31,269.48 L64.99,269.53 L65.67,269.59 L66.35,269.66 L67.03,269.73 L67.71,269.8 L68.39,269.87 L69.07,269.96 L69.75,270.04 L70.43,270.14 L71.11,270.24 L71.79,270.34 L72.47,270.45 L73.15,270.57 L73.83,270.7 L74.51,270.84 L75.19,270.98 L75.87,271.13 L76.55,271.3 L77.23,271.47 L77.91,271.65 L78.59,271.85 L79.27,272.06 L79.95,272.28 L80.63,272.51 L81.31,272.76 L81.99,273.03 L82.67,273.31 L83.35,273.61 L84.03,273.93 L84.71,274.26 L85.39,274.62 L86.07,275 L86.75,275.39 L87.43,275.82 L88.11,276.27 L88.79,276.74 L89.47,277.24 L90.15,277.77 L90.83,278.33 L91.51,278.92 L92.19,279.54 L92.87,280.2 L93.55,280.89 L94.23,281.62 L94.91,282.38 L95.59,283.18 L96.27,284.03 L96.95,284.91 L97.63,285.84 L98.31,286.81 L98.99,287.83 L99.67,288.89 L100.35,289.99 L101.03,291.15 L101.71,292.35 L102.39,293.6 L103.07,294.89 L103.75,296.23 L104.43,297.62 L105.11,299.06 L105.79,300.54 L106.47,302.07 L107.15,303.64 L107.83,305.26 L108.51,306.91 L109.19,308.6 L109.87,310.33 L110.55,312.09 L111.23,313.88 L111.91,315.71 L112.59,317.55 L113.27,319.42 L113.95,321.3 L114.63,323.2 L115.31,325.11 L115.99,327.02 L116.67,328.94 L117.35,330.85 L118.03,332.76 L118.71,334.66 L119.39,336.54 L120.07,338.41 L120.75,340.26 L121.43,342.08 L122.11,343.88 L122.79,345.64 L123.47,347.38 L124.15,349.07 L124.83,350.73 L125.51,352.35 L126.19,353.92 L126.87,355.46 L127.55,356.94 L128.23,358.39 L128.91,359.78 L129.59,361.13 L130.27,362.43 L130.95,363.68 L131.63,364.89 L132.31,366.04 L132.99,367.16 L133.67,368.22 L134.35,369.24 L135.03,370.22 L135.71,371.15 L136.39,372.04 L137.07,372.89 L137.75,373.69 L138.43,374.46 L139.11,375.19 L139.79,375.89 L140.47,376.55 L141.15,377.17 L141.83,377.77 L142.51,378.33 L143.19,378.86 L143.87,379.37 L144.55,379.84 L145.23,380.29 L145.91,380.72 L146.59,381.12 L147.27,381.5 L147.95,381.86 L148.63,382.2 L149.31,382.52 L149.99,382.82 L150.67,383.1 L151.35,383.37 L152.03,383.62 L152.71,383.86 L153.39,384.08 L154.07,384.29 L154.75,384.48 L155.43,384.67 L156.11,384.84 L156.79,385.01 L157.47,385.16 L158.15,385.31 L158.83,385.44 L159.51,385.57 L160.19,385.69 L160.87,385.8 L161.55,385.91 L162.23,386.01 L162.91,386.1 L163.59,386.19 L164.27,386.27 L164.95,386.35 L165.63,386.42 L166.31,386.49 L166.99,386.56 L167.67,386.62 L168.35,386.67 L169.03,386.73 L169.71,386.78 L170.39,386.82 L171.07,386.87 L171.75,386.91 L172.43,386.95 L173.11,386.98" fill="none" stroke="#d2287f" stroke-width="1.65"/>
<line x1="64.31" y1="250.88" x2="64.31" y2="285.31" stroke="#d2287f" stroke-width="1.35"/>
<line x1="62.51" y1="250.88" x2="66.11" y2="250.88" stroke="#d2287f" stroke-width="1.3"/>
<line x1="62.51" y1="285.31" x2="66.11" y2="285.31" stroke="#d2287f" stroke-width="1.3"/>
<path d="M64.31,267.44 L66.18,270.84 L62.44,270.84 Z" fill="#d2287f"/>
<line x1="91.51" y1="272.4" x2="91.51" y2="289.61" stroke="#d2287f" stroke-width="1.35"/>
<line x1="89.71" y1="272.4" x2="93.31" y2="272.4" stroke="#d2287f" stroke-width="1.3"/>
<line x1="89.71" y1="289.61" x2="93.31" y2="289.61" stroke="#d2287f" stroke-width="1.3"/>
<path d="M91.51,276.88 L93.38,280.28 L89.64,280.28 Z" fill="#d2287f"/>
<line x1="118.71" y1="276.7" x2="118.71" y2="358.48" stroke="#d2287f" stroke-width="1.35"/>
<line x1="116.91" y1="276.7" x2="120.51" y2="276.7" stroke="#d2287f" stroke-width="1.3"/>
<line x1="116.91" y1="358.48" x2="120.51" y2="358.48" stroke="#d2287f" stroke-width="1.3"/>
<path d="M118.71,332.62 L120.58,336.02 L116.84,336.02 Z" fill="#d2287f"/>
<line x1="145.91" y1="377.84" x2="145.91" y2="384.3" stroke="#d2287f" stroke-width="1.35"/>
<line x1="144.11" y1="377.84" x2="147.71" y2="377.84" stroke="#d2287f" stroke-width="1.3"/>
<line x1="144.11" y1="384.3" x2="147.71" y2="384.3" stroke="#d2287f" stroke-width="1.3"/>
<path d="M145.91,378.68 L147.78,382.08 L144.04,382.08 Z" fill="#d2287f"/>
<line x1="173.11" y1="382.15" x2="173.11" y2="384.3" stroke="#d2287f" stroke-width="1.35"/>
<line x1="171.31" y1="382.15" x2="174.91" y2="382.15" stroke="#d2287f" stroke-width="1.3"/>
<line x1="171.31" y1="384.3" x2="174.91" y2="384.3" stroke="#d2287f" stroke-width="1.3"/>
<path d="M173.11,380.97 L174.98,384.37 L171.24,384.37 Z" fill="#d2287f"/>
<path d="M64.31,262.14 L64.99,262.17 L65.67,262.2 L66.35,262.23 L67.03,262.26 L67.71,262.3 L68.39,262.33 L69.07,262.37 L69.75,262.42 L70.43,262.46 L71.11,262.51 L71.79,262.56 L72.47,262.61 L73.15,262.66 L73.83,262.72 L74.51,262.78 L75.19,262.85 L75.87,262.91 L76.55,262.99 L77.23,263.06 L77.91,263.14 L78.59,263.23 L79.27,263.32 L79.95,263.41 L80.63,263.51 L81.31,263.61 L81.99,263.72 L82.67,263.84 L83.35,263.96 L84.03,264.09 L84.71,264.23 L85.39,264.38 L86.07,264.53 L86.75,264.69 L87.43,264.86 L88.11,265.04 L88.79,265.23 L89.47,265.42 L90.15,265.63 L90.83,265.85 L91.51,266.09 L92.19,266.33 L92.87,266.59 L93.55,266.86 L94.23,267.14 L94.91,267.44 L95.59,267.76 L96.27,268.09 L96.95,268.44 L97.63,268.8 L98.31,269.19 L98.99,269.59 L99.67,270.02 L100.35,270.47 L101.03,270.93 L101.71,271.42 L102.39,271.94 L103.07,272.48 L103.75,273.04 L104.43,273.64 L105.11,274.26 L105.79,274.91 L106.47,275.58 L107.15,276.29 L107.83,277.03 L108.51,277.81 L109.19,278.61 L109.87,279.45 L110.55,280.33 L111.23,281.24 L111.91,282.19 L112.59,283.18 L113.27,284.2 L113.95,285.26 L114.63,286.37 L115.31,287.51 L115.99,288.7 L116.67,289.92 L117.35,291.18 L118.03,292.49 L118.71,293.84 L119.39,295.22 L120.07,296.65 L120.75,298.12 L121.43,299.62 L122.11,301.17 L122.79,302.75 L123.47,304.36 L124.15,306.01 L124.83,307.7 L125.51,309.42 L126.19,311.16 L126.87,312.94 L127.55,314.74 L128.23,316.56 L128.91,318.4 L129.59,320.27 L130.27,322.14 L130.95,324.04 L131.63,325.94 L132.31,327.85 L132.99,329.77 L133.67,331.68 L134.35,333.6 L135.03,335.51 L135.71,337.42 L136.39,339.31 L137.07,341.2 L137.75,343.07 L138.43,344.92 L139.11,346.75 L139.79,348.56 L140.47,350.34 L141.15,352.09 L141.83,353.82 L142.51,355.52 L143.19,357.18 L143.87,358.81 L144.55,360.4 L145.23,361.95 L145.91,363.47 L146.59,364.95 L147.27,366.39 L147.95,367.79 L148.63,369.15 L149.31,370.47 L149.99,371.75 L150.67,372.99 L151.35,374.18 L152.03,375.34 L152.71,376.46 L153.39,377.53 L154.07,378.57 L154.75,379.57 L155.43,380.53 L156.11,381.45 L156.79,382.34 L157.47,383.19 L158.15,384.01 L158.83,384.79 L159.51,385.55 L160.19,386.26 L160.87,386.95 L161.55,387.61 L162.23,388.24 L162.91,388.84 L163.59,389.42 L164.27,389.96 L164.95,390.49 L165.63,390.98 L166.31,391.46 L166.99,391.91 L167.67,392.34 L168.35,392.76 L169.03,393.15 L169.71,393.52 L170.39,393.87 L171.07,394.21 L171.75,394.53 L172.43,394.84 L173.11,395.13" fill="none" stroke="#3a1a48" stroke-width="1.65"/>
<line x1="64.31" y1="257.33" x2="64.31" y2="268.09" stroke="#3a1a48" stroke-width="1.35"/>
<line x1="62.51" y1="257.33" x2="66.11" y2="257.33" stroke="#3a1a48" stroke-width="1.3"/>
<line x1="62.51" y1="268.09" x2="66.11" y2="268.09" stroke="#3a1a48" stroke-width="1.3"/>
<path d="M64.31,260.1 L66.18,263.5 L62.44,263.5 Z" fill="#3a1a48"/>
<line x1="91.51" y1="259.48" x2="91.51" y2="270.24" stroke="#3a1a48" stroke-width="1.35"/>
<line x1="89.71" y1="259.48" x2="93.31" y2="259.48" stroke="#3a1a48" stroke-width="1.3"/>
<line x1="89.71" y1="270.24" x2="93.31" y2="270.24" stroke="#3a1a48" stroke-width="1.3"/>
<path d="M91.51,264.05 L93.38,267.45 L89.64,267.45 Z" fill="#3a1a48"/>
<line x1="118.71" y1="268.09" x2="118.71" y2="298.22" stroke="#3a1a48" stroke-width="1.35"/>
<line x1="116.91" y1="268.09" x2="120.51" y2="268.09" stroke="#3a1a48" stroke-width="1.3"/>
<line x1="116.91" y1="298.22" x2="120.51" y2="298.22" stroke="#3a1a48" stroke-width="1.3"/>
<path d="M118.71,291.8 L120.58,295.2 L116.84,295.2 Z" fill="#3a1a48"/>
<line x1="145.91" y1="367.08" x2="145.91" y2="375.69" stroke="#3a1a48" stroke-width="1.35"/>
<line x1="144.11" y1="367.08" x2="147.71" y2="367.08" stroke="#3a1a48" stroke-width="1.3"/>
<line x1="144.11" y1="375.69" x2="147.71" y2="375.69" stroke="#3a1a48" stroke-width="1.3"/>
<path d="M145.91,361.43 L147.78,364.83 L144.04,364.83 Z" fill="#3a1a48"/>
<line x1="173.11" y1="381.07" x2="173.11" y2="384.3" stroke="#3a1a48" stroke-width="1.35"/>
<line x1="171.31" y1="381.07" x2="174.91" y2="381.07" stroke="#3a1a48" stroke-width="1.3"/>
<line x1="171.31" y1="384.3" x2="174.91" y2="384.3" stroke="#3a1a48" stroke-width="1.3"/>
<path d="M173.11,380.97 L174.98,384.37 L171.24,384.37 Z" fill="#3a1a48"/>
</g>
<line x1="185.3" y1="255.6" x2="195.1" y2="255.6" stroke="#b5173d" stroke-width="1.3"/>
<rect x="187.9" y="253.3" width="4.6" height="4.6" fill="#b5173d"/>
<text x="198.5" y="258.35" font-size="7.45" text-anchor="start" fill="#333" font-weight="normal" >B3 WT JAK3</text>
<line x1="185.3" y1="267.05" x2="195.1" y2="267.05" stroke="#e8a535" stroke-width="1.3"/>
<path d="M190.2,264.29 L192.96,267.05 L190.2,269.81 L187.44,267.05 Z" fill="#e8a535"/>
<text x="198.5" y="269.8" font-size="7.45" text-anchor="start" fill="#333" font-weight="normal" >B3 IL7R 88i</text>
<line x1="185.3" y1="278.5" x2="195.1" y2="278.5" stroke="#9d9cca" stroke-width="1.3"/>
<path d="M187.9,276.2 L192.5,280.8 M187.9,280.8 L192.5,276.2" stroke="#9d9cca" stroke-width="1.2"/>
<text x="198.5" y="281.25" font-size="7.45" text-anchor="start" fill="#333" font-weight="normal" >B3 ATF7IP-JAK2</text>
<line x1="185.3" y1="289.95" x2="195.1" y2="289.95" stroke="#2c6051" stroke-width="1.3"/>
<path d="M190.2,287.19 L192.73,291.79 L187.67,291.79 Z" fill="#2c6051"/>
<text x="198.5" y="292.7" font-size="7.45" text-anchor="start" fill="#333" font-weight="normal" >B3 JAK3 A568V (IC<tspan font-size="5.9" dy="1.8">50</tspan><tspan dy="-1.8"> 73nM)</tspan></text>
<line x1="185.3" y1="301.4" x2="195.1" y2="301.4" stroke="#d2287f" stroke-width="1.3"/>
<path d="M190.2,298.64 L192.73,303.24 L187.67,303.24 Z" fill="#d2287f"/>
<text x="198.5" y="304.15" font-size="7.45" text-anchor="start" fill="#333" font-weight="normal" >B3 JAK3 R653H (IC<tspan font-size="5.9" dy="1.8">50</tspan><tspan dy="-1.8"> 41nM)</tspan></text>
<line x1="185.3" y1="312.85" x2="195.1" y2="312.85" stroke="#3a1a48" stroke-width="1.3"/>
<path d="M190.2,310.09 L192.73,314.69 L187.67,314.69 Z" fill="#3a1a48"/>
<text x="198.5" y="315.6" font-size="7.45" text-anchor="start" fill="#333" font-weight="normal" >B3 JAK3 L507I (IC<tspan font-size="5.9" dy="1.8">50</tspan><tspan dy="-1.8"> 174nM)</tspan></text>
<line x1="185.3" y1="324.3" x2="195.1" y2="324.3" stroke="#265e7d" stroke-width="1.3"/>
<path d="M190.2,321.54 L192.73,326.14 L187.67,326.14 Z" fill="#265e7d"/>
<text x="198.5" y="327.05" font-size="7.45" text-anchor="start" fill="#333" font-weight="normal" >B3 JAK3 V670A (IC<tspan font-size="5.9" dy="1.8">50</tspan><tspan dy="-1.8"> 34nM)</tspan></text>
<line x1="185.3" y1="335.75" x2="195.1" y2="335.75" stroke="#6cb24b" stroke-width="1.3"/>
<path d="M190.2,332.99 L192.96,335.75 L190.2,338.51 L187.44,335.75 Z" fill="#6cb24b"/>
<text x="198.5" y="338.5" font-size="7.45" text-anchor="start" fill="#333" font-weight="normal" >B3 MYH9-IL2RB (IC<tspan font-size="5.9" dy="1.8">50</tspan><tspan dy="-1.8"> 32nM)</tspan></text>
<line x1="185.3" y1="347.2" x2="195.1" y2="347.2" stroke="#4a4a72" stroke-width="1.3"/>
<path d="M187.9,344.9 L192.5,349.5 M187.9,349.5 L192.5,344.9" stroke="#4a4a72" stroke-width="1.2"/>
<text x="198.5" y="349.95" font-size="7.45" text-anchor="start" fill="#333" font-weight="normal" >B3 SSBP2-CSF1R</text>
<line x1="185.3" y1="358.65" x2="195.1" y2="358.65" stroke="#4c5579" stroke-width="1.3"/>
<circle cx="190.2" cy="358.65" r="2.42" fill="#4c5579"/>
<text x="198.5" y="361.4" font-size="7.45" text-anchor="start" fill="#333" font-weight="normal" >B3 JAK1 L782F</text>
<line x1="185.3" y1="370.1" x2="195.1" y2="370.1" stroke="#50506f" stroke-width="1.3"/>
<path d="M190.2,367.34 L192.73,371.94 L187.67,371.94 Z" fill="#50506f"/>
<text x="198.5" y="372.85" font-size="7.45" text-anchor="start" fill="#333" font-weight="normal" >B3 MYB-TYK2</text>
<text x="287.2" y="224" font-size="11.5" text-anchor="start" fill="#000" font-weight="bold" stroke="#000" stroke-width="0.35">D</text>
<path d="M330,258.8 C330.48,258.63 332.13,259.27 332.9,257.8 C333.67,256.33 334.12,253.3 334.6,250 C335.08,246.7 335.47,241.33 335.8,238 C336.13,234.67 336.37,231.53 336.6,230 C336.83,228.47 336.98,228.8 337.2,228.8 C337.42,228.8 337.63,228.47 337.9,230 C338.17,231.53 338.45,234.67 338.8,238 C339.15,241.33 339.53,246.75 340,250 C340.47,253.25 341.02,256.03 341.6,257.5 C342.18,258.97 343.18,258.58 343.5,258.8 L343.5,258.8 L330,258.8 Z" fill="#e4e4e4" fill-opacity="1.0" stroke="none"/>
<path d="M305.5,258.8 L330,258.8 M330,258.8 C330.48,258.63 332.13,259.27 332.9,257.8 C333.67,256.33 334.12,253.3 334.6,250 C335.08,246.7 335.47,241.33 335.8,238 C336.13,234.67 336.37,231.53 336.6,230 C336.83,228.47 336.98,228.8 337.2,228.8 C337.42,228.8 337.63,228.47 337.9,230 C338.17,231.53 338.45,234.67 338.8,238 C339.15,241.33 339.53,246.75 340,250 C340.47,253.25 341.02,256.03 341.6,257.5 C342.18,258.97 343.18,258.58 343.5,258.8 M343.5,258.8 L428.4,258.8" fill="none" stroke="#b0b0b0" stroke-width="1.2" stroke-linejoin="round"/>
<path d="M348,275.4 C349.13,275.23 352.3,274.77 354.8,274.4 C357.3,274.03 359.98,273.5 363,273.2 C366.02,272.9 370.03,272.87 372.9,272.6 C375.77,272.33 378.58,272.53 380.2,271.6 C381.82,270.67 381.87,269.1 382.6,267 C383.33,264.9 383.93,261.83 384.6,259 C385.27,256.17 386,252.23 386.6,250 C387.2,247.77 387.7,246.33 388.2,245.6 C388.7,244.87 389.1,244.87 389.6,245.6 C390.1,246.33 390.65,247.93 391.2,250 C391.75,252.07 392.33,255.33 392.9,258 C393.47,260.67 394.02,263.67 394.6,266 C395.18,268.33 395.65,270.47 396.4,272 C397.15,273.53 398.17,274.63 399.1,275.2 C400.03,275.77 401.52,275.37 402,275.4 L402,275.4 L348,275.4 Z" fill="#8d9ac3" fill-opacity="0.9" stroke="none"/>
<path d="M335,291.5 C335.75,291.35 338.08,291.27 339.5,290.6 C340.92,289.93 342.25,289.1 343.5,287.5 C344.75,285.9 345.65,283.47 347,281 C348.35,278.53 350.02,275.1 351.6,272.7 C353.18,270.3 355.13,268.25 356.5,266.6 C357.87,264.95 358.85,263.7 359.8,262.8 C360.75,261.9 361.25,261.08 362.2,261.2 C363.15,261.32 364.4,262.03 365.5,263.5 C366.6,264.97 367.57,267.15 368.8,270 C370.03,272.85 371.4,277.72 372.9,280.6 C374.4,283.48 375.9,285.6 377.8,287.3 C379.7,289 382.6,290.1 384.3,290.8 C386,291.5 387.38,291.38 388,291.5 L388,291.5 L335,291.5 Z" fill="#bcc2da" fill-opacity="0.9" stroke="none"/>
<path d="M355,307.6 C356.67,307.55 362.02,307.67 365,307.3 C367.98,306.93 370.73,306.15 372.9,305.4 C375.07,304.65 376.65,303.77 378,302.8 C379.35,301.83 380.12,301.07 381,299.6 C381.88,298.13 382.6,296.05 383.3,294 C384,291.95 384.53,289.55 385.2,287.3 C385.87,285.05 386.62,282.05 387.3,280.5 C387.98,278.95 388.68,278.08 389.3,278 C389.92,277.92 390.47,278.97 391,280 C391.53,281.03 392,282.37 392.5,284.2 C393,286.03 393.45,288.3 394,291 C394.55,293.7 395.13,297.93 395.8,300.4 C396.47,302.87 397.18,304.6 398,305.8 C398.82,307 400.25,307.3 400.7,307.6 L400.7,307.6 L355,307.6 Z" fill="#a07cab" fill-opacity="0.9" stroke="none"/>
<path d="M334,323.8 C334.67,323.73 336.67,323.78 338,323.4 C339.33,323.02 340.5,322.32 342,321.5 C343.5,320.68 345.42,319.5 347,318.5 C348.58,317.5 350.1,316.5 351.5,315.5 C352.9,314.5 354.15,314.58 355.4,312.5 C356.65,310.42 357.9,305.75 359,303 C360.1,300.25 361.05,297.45 362,296 C362.95,294.55 363.87,294.3 364.7,294.3 C365.53,294.3 366.12,294.63 367,296 C367.88,297.37 368.92,300.08 370,302.5 C371.08,304.92 372.47,308.42 373.5,310.5 C374.53,312.58 375.2,313.42 376.2,315 C377.2,316.58 378.37,318.62 379.5,320 C380.63,321.38 381.92,322.67 383,323.3 C384.08,323.93 385.5,323.72 386,323.8 L386,323.8 L334,323.8 Z" fill="#d4c0da" fill-opacity="0.9" stroke="none"/>
<path d="M358,339.7 C359.12,339.53 362.53,339.05 364.7,338.7 C366.87,338.35 368.7,337.88 371,337.6 C373.3,337.32 376.67,337.35 378.5,337 C380.33,336.65 380.98,336.83 382,335.5 C383.02,334.17 383.83,331.92 384.6,329 C385.37,326.08 385.93,321.08 386.6,318 C387.27,314.92 388.03,311.93 388.6,310.5 C389.17,309.07 389.53,309.35 390,309.4 C390.47,309.45 390.87,309.37 391.4,310.8 C391.93,312.23 392.57,314.97 393.2,318 C393.83,321.03 394.53,325.9 395.2,329 C395.87,332.1 396.52,334.87 397.2,336.6 C397.88,338.33 398.5,338.88 399.3,339.4 C400.1,339.92 401.55,339.65 402,339.7 L402,339.7 L358,339.7 Z" fill="#8cc06a" fill-opacity="0.85" stroke="none"/>
<path d="M336,355.8 C336.73,355.63 339.15,355.77 340.4,354.8 C341.65,353.83 342.52,352.8 343.5,350 C344.48,347.2 345.43,341.42 346.3,338 C347.17,334.58 348,331.45 348.7,329.5 C349.4,327.55 349.95,326.95 350.5,326.3 C351.05,325.65 351.48,325.6 352,325.6 C352.52,325.6 353,325.4 353.6,326.3 C354.2,327.2 354.87,328.72 355.6,331 C356.33,333.28 357.1,337.08 358,340 C358.9,342.92 359.92,346.33 361,348.5 C362.08,350.67 363.33,351.98 364.5,353 C365.67,354.02 366.05,354.23 368,354.6 C369.95,354.97 373.87,355 376.2,355.2 C378.53,355.4 381.03,355.7 382,355.8 L382,355.8 L336,355.8 Z" fill="#c5dfb1" fill-opacity="0.9" stroke="none"/>
<path d="M352,372 C353.33,371.87 357,371.53 360,371.2 C363,370.87 366.92,370.32 370,370 C373.08,369.68 376.42,369.77 378.5,369.3 C380.58,368.83 381.42,368.75 382.5,367.2 C383.58,365.65 384.22,362.87 385,360 C385.78,357.13 386.5,352.83 387.2,350 C387.9,347.17 388.63,344.4 389.2,343 C389.77,341.6 390.13,341.6 390.6,341.6 C391.07,341.6 391.47,341.6 392,343 C392.53,344.4 393.17,347 393.8,350 C394.43,353 395.13,357.87 395.8,361 C396.47,364.13 397.1,367.05 397.8,368.8 C398.5,370.55 399.13,370.97 400,371.5 C400.87,372.03 402.5,371.92 403,372 L403,372 L352,372 Z" fill="#8cbce4" fill-opacity="0.9" stroke="none"/>
<path d="M338,388.2 C338.6,388.1 340.52,388.63 341.6,387.6 C342.68,386.57 343.63,384.77 344.5,382 C345.37,379.23 346.08,374.42 346.8,371 C347.52,367.58 348.23,363.63 348.8,361.5 C349.37,359.37 349.75,358.82 350.2,358.2 C350.65,357.58 351.13,357.58 351.5,357.8 C351.87,358.02 352.05,359.3 352.4,359.5 C352.75,359.7 353.17,358.5 353.6,359 C354.03,359.5 354.5,360.67 355,362.5 C355.5,364.33 356.15,367.75 356.6,370 C357.05,372.25 357.2,374 357.7,376 C358.2,378 358.82,380.23 359.6,382 C360.38,383.77 361.33,385.57 362.4,386.6 C363.47,387.63 365.4,387.93 366,388.2 L366,388.2 L338,388.2 Z" fill="#d2e4f4" fill-opacity="0.9" stroke="none"/>
<path d="M330,404.4 C330.75,404.3 333.42,404.37 334.5,403.8 C335.58,403.23 335.92,402.8 336.5,401 C337.08,399.2 337.42,394.63 338,393 C338.58,391.37 339.08,391.53 340,391.2 C340.92,390.87 342.42,391.1 343.5,391 C344.58,390.9 345.5,390.6 346.5,390.6 C347.5,390.6 348.5,391.37 349.5,391 C350.5,390.63 351.52,389.33 352.5,388.4 C353.48,387.47 354.4,386.37 355.4,385.4 C356.4,384.43 357.53,383.55 358.5,382.6 C359.47,381.65 360.28,380.67 361.2,379.7 C362.12,378.73 363.17,377.48 364,376.8 C364.83,376.12 365.53,375.7 366.2,375.6 C366.87,375.5 367.37,375.93 368,376.2 C368.63,376.47 369.33,376.57 370,377.2 C370.67,377.83 371.35,378.63 372,380 C372.65,381.37 373.15,383.57 373.9,385.4 C374.65,387.23 375.68,389.3 376.5,391 C377.32,392.7 378.05,394.43 378.8,395.6 C379.55,396.77 380.13,397.1 381,398 C381.87,398.9 383,400.1 384,401 C385,401.9 385.83,402.83 387,403.4 C388.17,403.97 390.33,404.23 391,404.4 L391,404.4 L330,404.4 Z" fill="#de4a9b" fill-opacity="0.85" stroke="none"/>
<path d="M326,420.2 C326.73,420.03 329.15,419.9 330.4,419.2 C331.65,418.5 332.65,418.37 333.5,416 C334.35,413.63 334.88,408.62 335.5,405 C336.12,401.38 336.47,396.63 337.2,394.3 C337.93,391.97 338.78,391.47 339.9,391 C341.02,390.53 342.88,391.57 343.9,391.5 C344.92,391.43 345.32,390.82 346,390.6 C346.68,390.38 347.33,389.8 348,390.2 C348.67,390.6 349.33,391.87 350,393 C350.67,394.13 351.25,395 352,397 C352.75,399 353.6,402.33 354.5,405 C355.4,407.67 356.32,411.03 357.4,413 C358.48,414.97 359.65,415.88 361,416.8 C362.35,417.72 364,418.03 365.5,418.5 C367,418.97 368.25,419.32 370,419.6 C371.75,419.88 375,420.1 376,420.2 L376,420.2 L326,420.2 Z" fill="#f0c3da" fill-opacity="0.9" stroke="none"/>
<path d="M305.5,275.4 L348,275.4 M348,275.4 C349.13,275.23 352.3,274.77 354.8,274.4 C357.3,274.03 359.98,273.5 363,273.2 C366.02,272.9 370.03,272.87 372.9,272.6 C375.77,272.33 378.58,272.53 380.2,271.6 C381.82,270.67 381.87,269.1 382.6,267 C383.33,264.9 383.93,261.83 384.6,259 C385.27,256.17 386,252.23 386.6,250 C387.2,247.77 387.7,246.33 388.2,245.6 C388.7,244.87 389.1,244.87 389.6,245.6 C390.1,246.33 390.65,247.93 391.2,250 C391.75,252.07 392.33,255.33 392.9,258 C393.47,260.67 394.02,263.67 394.6,266 C395.18,268.33 395.65,270.47 396.4,272 C397.15,273.53 398.17,274.63 399.1,275.2 C400.03,275.77 401.52,275.37 402,275.4 M402,275.4 L428.4,275.4" fill="none" stroke="#2f3e6f" stroke-width="1.35" stroke-linejoin="round"/>
<path d="M305.5,291.5 L335,291.5 M335,291.5 C335.75,291.35 338.08,291.27 339.5,290.6 C340.92,289.93 342.25,289.1 343.5,287.5 C344.75,285.9 345.65,283.47 347,281 C348.35,278.53 350.02,275.1 351.6,272.7 C353.18,270.3 355.13,268.25 356.5,266.6 C357.87,264.95 358.85,263.7 359.8,262.8 C360.75,261.9 361.25,261.08 362.2,261.2 C363.15,261.32 364.4,262.03 365.5,263.5 C366.6,264.97 367.57,267.15 368.8,270 C370.03,272.85 371.4,277.72 372.9,280.6 C374.4,283.48 375.9,285.6 377.8,287.3 C379.7,289 382.6,290.1 384.3,290.8 C386,291.5 387.38,291.38 388,291.5 M388,291.5 L428.4,291.5" fill="none" stroke="#2f3e6f" stroke-width="1.35" stroke-linejoin="round"/>
<path d="M305.5,307.6 L355,307.6 M355,307.6 C356.67,307.55 362.02,307.67 365,307.3 C367.98,306.93 370.73,306.15 372.9,305.4 C375.07,304.65 376.65,303.77 378,302.8 C379.35,301.83 380.12,301.07 381,299.6 C381.88,298.13 382.6,296.05 383.3,294 C384,291.95 384.53,289.55 385.2,287.3 C385.87,285.05 386.62,282.05 387.3,280.5 C387.98,278.95 388.68,278.08 389.3,278 C389.92,277.92 390.47,278.97 391,280 C391.53,281.03 392,282.37 392.5,284.2 C393,286.03 393.45,288.3 394,291 C394.55,293.7 395.13,297.93 395.8,300.4 C396.47,302.87 397.18,304.6 398,305.8 C398.82,307 400.25,307.3 400.7,307.6 M400.7,307.6 L428.4,307.6" fill="none" stroke="#3c1f48" stroke-width="1.35" stroke-linejoin="round"/>
<path d="M305.5,323.8 L334,323.8 M334,323.8 C334.67,323.73 336.67,323.78 338,323.4 C339.33,323.02 340.5,322.32 342,321.5 C343.5,320.68 345.42,319.5 347,318.5 C348.58,317.5 350.1,316.5 351.5,315.5 C352.9,314.5 354.15,314.58 355.4,312.5 C356.65,310.42 357.9,305.75 359,303 C360.1,300.25 361.05,297.45 362,296 C362.95,294.55 363.87,294.3 364.7,294.3 C365.53,294.3 366.12,294.63 367,296 C367.88,297.37 368.92,300.08 370,302.5 C371.08,304.92 372.47,308.42 373.5,310.5 C374.53,312.58 375.2,313.42 376.2,315 C377.2,316.58 378.37,318.62 379.5,320 C380.63,321.38 381.92,322.67 383,323.3 C384.08,323.93 385.5,323.72 386,323.8 M386,323.8 L428.4,323.8" fill="none" stroke="#3c1f48" stroke-width="1.35" stroke-linejoin="round"/>
<path d="M305.5,339.7 L358,339.7 M358,339.7 C359.12,339.53 362.53,339.05 364.7,338.7 C366.87,338.35 368.7,337.88 371,337.6 C373.3,337.32 376.67,337.35 378.5,337 C380.33,336.65 380.98,336.83 382,335.5 C383.02,334.17 383.83,331.92 384.6,329 C385.37,326.08 385.93,321.08 386.6,318 C387.27,314.92 388.03,311.93 388.6,310.5 C389.17,309.07 389.53,309.35 390,309.4 C390.47,309.45 390.87,309.37 391.4,310.8 C391.93,312.23 392.57,314.97 393.2,318 C393.83,321.03 394.53,325.9 395.2,329 C395.87,332.1 396.52,334.87 397.2,336.6 C397.88,338.33 398.5,338.88 399.3,339.4 C400.1,339.92 401.55,339.65 402,339.7 M402,339.7 L428.4,339.7" fill="none" stroke="#6aa84b" stroke-width="1.35" stroke-linejoin="round"/>
<path d="M305.5,355.8 L336,355.8 M336,355.8 C336.73,355.63 339.15,355.77 340.4,354.8 C341.65,353.83 342.52,352.8 343.5,350 C344.48,347.2 345.43,341.42 346.3,338 C347.17,334.58 348,331.45 348.7,329.5 C349.4,327.55 349.95,326.95 350.5,326.3 C351.05,325.65 351.48,325.6 352,325.6 C352.52,325.6 353,325.4 353.6,326.3 C354.2,327.2 354.87,328.72 355.6,331 C356.33,333.28 357.1,337.08 358,340 C358.9,342.92 359.92,346.33 361,348.5 C362.08,350.67 363.33,351.98 364.5,353 C365.67,354.02 366.05,354.23 368,354.6 C369.95,354.97 373.87,355 376.2,355.2 C378.53,355.4 381.03,355.7 382,355.8 M382,355.8 L428.4,355.8" fill="none" stroke="#6aa84b" stroke-width="1.35" stroke-linejoin="round"/>
<path d="M305.5,372 L352,372 M352,372 C353.33,371.87 357,371.53 360,371.2 C363,370.87 366.92,370.32 370,370 C373.08,369.68 376.42,369.77 378.5,369.3 C380.58,368.83 381.42,368.75 382.5,367.2 C383.58,365.65 384.22,362.87 385,360 C385.78,357.13 386.5,352.83 387.2,350 C387.9,347.17 388.63,344.4 389.2,343 C389.77,341.6 390.13,341.6 390.6,341.6 C391.07,341.6 391.47,341.6 392,343 C392.53,344.4 393.17,347 393.8,350 C394.43,353 395.13,357.87 395.8,361 C396.47,364.13 397.1,367.05 397.8,368.8 C398.5,370.55 399.13,370.97 400,371.5 C400.87,372.03 402.5,371.92 403,372 M403,372 L428.4,372" fill="none" stroke="#6b9fcf" stroke-width="1.35" stroke-linejoin="round"/>
<path d="M305.5,388.2 L338,388.2 M338,388.2 C338.6,388.1 340.52,388.63 341.6,387.6 C342.68,386.57 343.63,384.77 344.5,382 C345.37,379.23 346.08,374.42 346.8,371 C347.52,367.58 348.23,363.63 348.8,361.5 C349.37,359.37 349.75,358.82 350.2,358.2 C350.65,357.58 351.13,357.58 351.5,357.8 C351.87,358.02 352.05,359.3 352.4,359.5 C352.75,359.7 353.17,358.5 353.6,359 C354.03,359.5 354.5,360.67 355,362.5 C355.5,364.33 356.15,367.75 356.6,370 C357.05,372.25 357.2,374 357.7,376 C358.2,378 358.82,380.23 359.6,382 C360.38,383.77 361.33,385.57 362.4,386.6 C363.47,387.63 365.4,387.93 366,388.2 M366,388.2 L428.4,388.2" fill="none" stroke="#7badd6" stroke-width="1.35" stroke-linejoin="round"/>
<path d="M305.5,404.4 L330,404.4 M330,404.4 C330.75,404.3 333.42,404.37 334.5,403.8 C335.58,403.23 335.92,402.8 336.5,401 C337.08,399.2 337.42,394.63 338,393 C338.58,391.37 339.08,391.53 340,391.2 C340.92,390.87 342.42,391.1 343.5,391 C344.58,390.9 345.5,390.6 346.5,390.6 C347.5,390.6 348.5,391.37 349.5,391 C350.5,390.63 351.52,389.33 352.5,388.4 C353.48,387.47 354.4,386.37 355.4,385.4 C356.4,384.43 357.53,383.55 358.5,382.6 C359.47,381.65 360.28,380.67 361.2,379.7 C362.12,378.73 363.17,377.48 364,376.8 C364.83,376.12 365.53,375.7 366.2,375.6 C366.87,375.5 367.37,375.93 368,376.2 C368.63,376.47 369.33,376.57 370,377.2 C370.67,377.83 371.35,378.63 372,380 C372.65,381.37 373.15,383.57 373.9,385.4 C374.65,387.23 375.68,389.3 376.5,391 C377.32,392.7 378.05,394.43 378.8,395.6 C379.55,396.77 380.13,397.1 381,398 C381.87,398.9 383,400.1 384,401 C385,401.9 385.83,402.83 387,403.4 C388.17,403.97 390.33,404.23 391,404.4 M391,404.4 L428.4,404.4" fill="none" stroke="#b3186b" stroke-width="1.35" stroke-linejoin="round"/>
<path d="M305.5,420.2 L326,420.2 M326,420.2 C326.73,420.03 329.15,419.9 330.4,419.2 C331.65,418.5 332.65,418.37 333.5,416 C334.35,413.63 334.88,408.62 335.5,405 C336.12,401.38 336.47,396.63 337.2,394.3 C337.93,391.97 338.78,391.47 339.9,391 C341.02,390.53 342.88,391.57 343.9,391.5 C344.92,391.43 345.32,390.82 346,390.6 C346.68,390.38 347.33,389.8 348,390.2 C348.67,390.6 349.33,391.87 350,393 C350.67,394.13 351.25,395 352,397 C352.75,399 353.6,402.33 354.5,405 C355.4,407.67 356.32,411.03 357.4,413 C358.48,414.97 359.65,415.88 361,416.8 C362.35,417.72 364,418.03 365.5,418.5 C367,418.97 368.25,419.32 370,419.6 C371.75,419.88 375,420.1 376,420.2 M376,420.2 L428.4,420.2" fill="none" stroke="#b3186b" stroke-width="1.35" stroke-linejoin="round"/>
<rect x="304.6" y="225.3" width="124.6" height="195.5" fill="none" stroke="#111" stroke-width="1.6"/>
<line x1="351.2" y1="420.8" x2="351.2" y2="423.6" stroke="#111" stroke-width="0.95"/>
<line x1="360.23" y1="420.8" x2="360.23" y2="423.6" stroke="#111" stroke-width="0.95"/>
<line x1="365.51" y1="420.8" x2="365.51" y2="423.6" stroke="#111" stroke-width="0.95"/>
<line x1="369.26" y1="420.8" x2="369.26" y2="423.6" stroke="#111" stroke-width="0.95"/>
<line x1="372.17" y1="420.8" x2="372.17" y2="423.6" stroke="#111" stroke-width="0.95"/>
<line x1="374.54" y1="420.8" x2="374.54" y2="423.6" stroke="#111" stroke-width="0.95"/>
<line x1="376.55" y1="420.8" x2="376.55" y2="423.6" stroke="#111" stroke-width="0.95"/>
<line x1="378.29" y1="420.8" x2="378.29" y2="423.6" stroke="#111" stroke-width="0.95"/>
<line x1="379.83" y1="420.8" x2="379.83" y2="423.6" stroke="#111" stroke-width="0.95"/>
<line x1="385.5" y1="420.8" x2="385.5" y2="423.6" stroke="#111" stroke-width="0.95"/>
<line x1="394.53" y1="420.8" x2="394.53" y2="423.6" stroke="#111" stroke-width="0.95"/>
<line x1="399.81" y1="420.8" x2="399.81" y2="423.6" stroke="#111" stroke-width="0.95"/>
<line x1="403.56" y1="420.8" x2="403.56" y2="423.6" stroke="#111" stroke-width="0.95"/>
<line x1="406.47" y1="420.8" x2="406.47" y2="423.6" stroke="#111" stroke-width="0.95"/>
<line x1="408.84" y1="420.8" x2="408.84" y2="423.6" stroke="#111" stroke-width="0.95"/>
<line x1="410.85" y1="420.8" x2="410.85" y2="423.6" stroke="#111" stroke-width="0.95"/>
<line x1="412.59" y1="420.8" x2="412.59" y2="423.6" stroke="#111" stroke-width="0.95"/>
<line x1="414.13" y1="420.8" x2="414.13" y2="423.6" stroke="#111" stroke-width="0.95"/>
<line x1="414.2" y1="420.8" x2="414.2" y2="423.6" stroke="#111" stroke-width="0.95"/>
<line x1="423.23" y1="420.8" x2="423.23" y2="423.6" stroke="#111" stroke-width="0.95"/>
<line x1="312" y1="420.8" x2="312" y2="423.6" stroke="#111" stroke-width="0.95"/>
<line x1="326.28" y1="420.8" x2="326.28" y2="423.6" stroke="#111" stroke-width="0.95"/>
<line x1="322.76" y1="420.8" x2="322.76" y2="423.6" stroke="#111" stroke-width="0.95"/>
<line x1="320.26" y1="420.8" x2="320.26" y2="423.6" stroke="#111" stroke-width="0.95"/>
<line x1="318.32" y1="420.8" x2="318.32" y2="423.6" stroke="#111" stroke-width="0.95"/>
<line x1="316.74" y1="420.8" x2="316.74" y2="423.6" stroke="#111" stroke-width="0.95"/>
<line x1="315.4" y1="420.8" x2="315.4" y2="423.6" stroke="#111" stroke-width="0.95"/>
<line x1="314.24" y1="420.8" x2="314.24" y2="423.6" stroke="#111" stroke-width="0.95"/>
<line x1="313.22" y1="420.8" x2="313.22" y2="423.6" stroke="#111" stroke-width="0.95"/>
<line x1="313.5" y1="420.8" x2="313.5" y2="423.6" stroke="#111" stroke-width="0.95"/>
<line x1="316" y1="420.8" x2="316" y2="423.6" stroke="#111" stroke-width="0.95"/>
<line x1="318" y1="420.8" x2="318" y2="423.6" stroke="#111" stroke-width="0.95"/>
<line x1="320" y1="420.8" x2="320" y2="423.6" stroke="#111" stroke-width="0.95"/>
<line x1="322" y1="420.8" x2="322" y2="423.6" stroke="#111" stroke-width="0.95"/>
<line x1="324" y1="420.8" x2="324" y2="423.6" stroke="#111" stroke-width="0.95"/>
<line x1="326" y1="420.8" x2="326" y2="423.6" stroke="#111" stroke-width="0.95"/>
<line x1="328" y1="420.8" x2="328" y2="423.6" stroke="#111" stroke-width="0.95"/>
<line x1="330" y1="420.8" x2="330" y2="423.6" stroke="#111" stroke-width="0.95"/>
<line x1="332.3" y1="420.8" x2="332.3" y2="423.6" stroke="#111" stroke-width="0.95"/>
<line x1="334.5" y1="420.8" x2="334.5" y2="423.6" stroke="#111" stroke-width="0.95"/>
<line x1="336.5" y1="420.8" x2="336.5" y2="423.6" stroke="#111" stroke-width="0.95"/>
<line x1="338.5" y1="420.8" x2="338.5" y2="423.6" stroke="#111" stroke-width="0.95"/>
<line x1="340.5" y1="420.8" x2="340.5" y2="423.6" stroke="#111" stroke-width="0.95"/>
<line x1="342.5" y1="420.8" x2="342.5" y2="423.6" stroke="#111" stroke-width="0.95"/>
<line x1="344.5" y1="420.8" x2="344.5" y2="423.6" stroke="#111" stroke-width="0.95"/>
<line x1="346.5" y1="420.8" x2="346.5" y2="423.6" stroke="#111" stroke-width="0.95"/>
<line x1="348.5" y1="420.8" x2="348.5" y2="423.6" stroke="#111" stroke-width="0.95"/>
<g transform="translate(305.2,435.2) scale(0.92,1)"><text x="0" y="0" font-size="8.2" fill="#333">10<tspan font-size="6.3" dy="-3.4">-3</tspan></text></g>
<g transform="translate(346.8,435.2) scale(0.92,1)"><text x="0" y="0" font-size="8.2" fill="#333">10<tspan font-size="6.3" dy="-3.4">3</tspan></text></g>
<g transform="translate(381.2,435.2) scale(0.92,1)"><text x="0" y="0" font-size="8.2" fill="#333">10<tspan font-size="6.3" dy="-3.4">4</tspan></text></g>
<g transform="translate(410.4,435.2) scale(0.92,1)"><text x="0" y="0" font-size="8.2" fill="#333">10<tspan font-size="6.3" dy="-3.4">5</tspan></text></g>
<g transform="translate(332.8,435.2) scale(0.92,1)"><text x="0" y="0" font-size="8.2" fill="#333" text-anchor="middle">0</text></g>
<g transform="translate(367,448.2) scale(0.745,1)"><text x="0" y="0" font-size="8.6" font-weight="bold" stroke="#222" stroke-width="0.15" fill="#222" text-anchor="middle">pSTAT5</text></g>
<text x="431.2" y="261.7" font-size="7.9" text-anchor="start" fill="#c6c6c6" font-weight="normal" >Isotype</text>
<text x="431.2" y="278.1" font-size="7.9" text-anchor="start" fill="#36426e" font-weight="normal" >B3 JAK3 L507I</text>
<text x="431.2" y="294" font-size="7.9" text-anchor="start" fill="#3e4a78" font-weight="normal" >B3 JAK3 L507I JAK3i</text>
<text x="431.2" y="310.4" font-size="7.9" text-anchor="start" fill="#45294f" font-weight="normal" >B3 JAK3 A568V</text>
<text x="431.2" y="326.5" font-size="7.9" text-anchor="start" fill="#45294f" font-weight="normal" >B3 JAK3 A568V JAK3i</text>
<text x="431.2" y="342.4" font-size="7.9" text-anchor="start" fill="#7aaa5e" font-weight="normal" >B3 JAK3 R653H</text>
<text x="431.2" y="358.7" font-size="7.9" text-anchor="start" fill="#7aaa5e" font-weight="normal" >B3 JAK3 R653H JAK3i</text>
<text x="431.2" y="375" font-size="7.9" text-anchor="start" fill="#6a9bc8" font-weight="normal" >B3 JAK3 V670A</text>
<text x="431.2" y="391" font-size="7.9" text-anchor="start" fill="#78a8d2" font-weight="normal" >B3 JAK3 V670A JAK3i</text>
<text x="431.2" y="407.1" font-size="7.9" text-anchor="start" fill="#b01f6e" font-weight="normal" >B3 MYH9-IL2RB</text>
<text x="431.2" y="422.2" font-size="7.9" text-anchor="start" fill="#b01f6e" font-weight="normal" >B3 MYH9-IL2RB JAK3i</text>
</g>
<rect x="0" y="0" width="520" height="1.1" fill="#000"/>
<rect x="0" y="0" width="1.3" height="458" fill="#000"/>
<rect x="518.6" y="0" width="1.4" height="458" fill="#000"/>
<rect x="0" y="456.1" width="520" height="1.9" fill="#000"/>
</svg>
</body></html>
